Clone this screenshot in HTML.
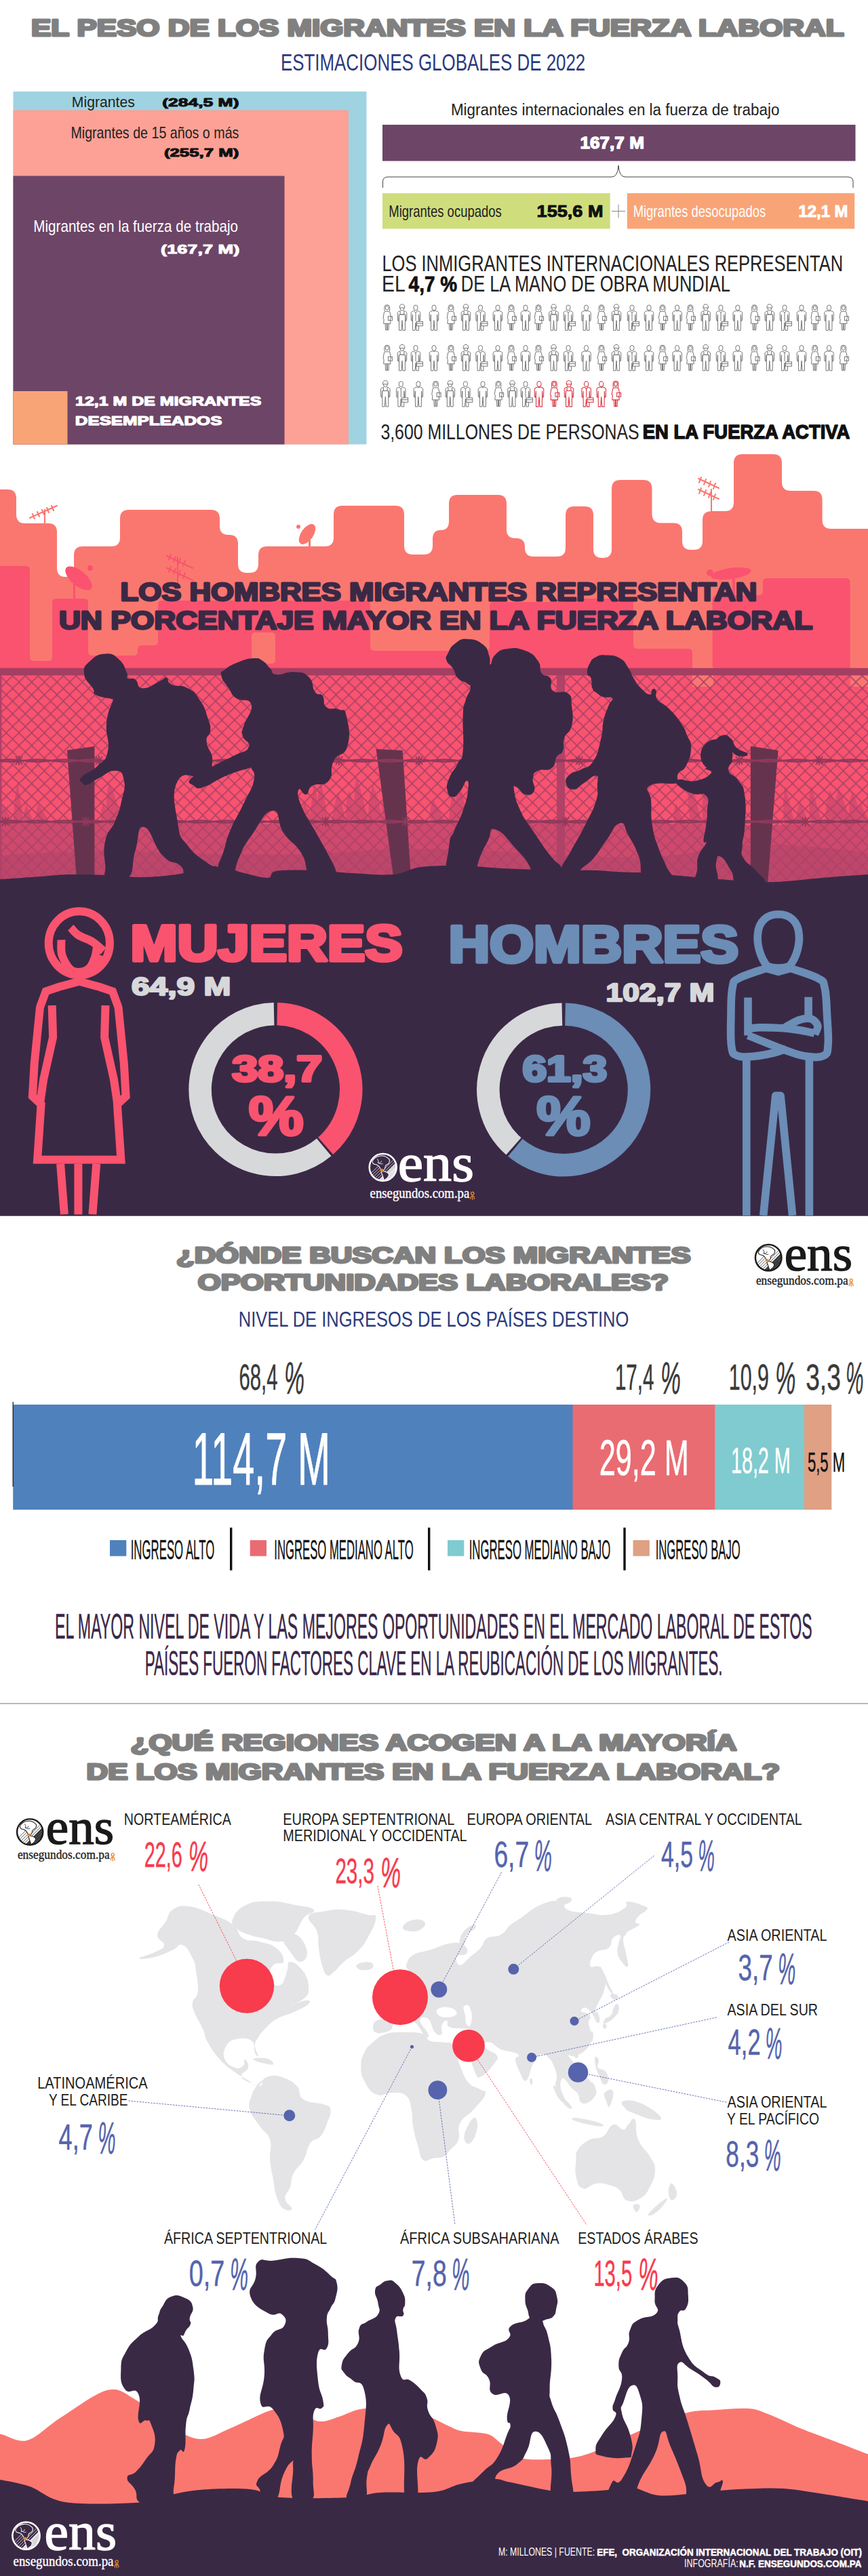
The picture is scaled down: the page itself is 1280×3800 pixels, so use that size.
<!DOCTYPE html>
<html lang="es"><head><meta charset="utf-8"><title>El peso de los migrantes en la fuerza laboral</title>
<style>html,body{margin:0;padding:0;background:#fff}svg{display:block}text{white-space:pre}</style></head>
<body><svg width="1280" height="3800" viewBox="0 0 1280 3800">
<text x="46.0" y="53.4" font-family="'Liberation Sans',sans-serif" font-size="35.94" font-weight="bold" fill="#808080" textLength="1198.6" lengthAdjust="spacingAndGlyphs" stroke="#808080" stroke-width="3.2" stroke-linejoin="round">EL PESO DE LOS MIGRANTES EN LA FUERZA LABORAL</text>
<text x="413.9" y="104.0" font-family="'Liberation Sans',sans-serif" font-size="34.78" font-weight="normal" fill="#2c3a7c" textLength="449.4" lengthAdjust="spacingAndGlyphs">ESTIMACIONES GLOBALES DE 2022</text>
<rect x="19.5" y="135" width="521" height="520.5" fill="#9fd3e1"/>
<rect x="19.5" y="162.5" width="494.5" height="493" fill="#fda196"/>
<rect x="19.5" y="259.5" width="400" height="396" fill="#6d4567"/>
<rect x="19.5" y="577" width="80" height="78.5" fill="#f9a476"/>
<text x="105.8" y="157.5" font-family="'Liberation Sans',sans-serif" font-size="22.46" font-weight="normal" fill="#222" textLength="93.0" lengthAdjust="spacingAndGlyphs">Migrantes</text>
<text x="239.2" y="157.0" font-family="'Liberation Sans',sans-serif" font-size="17.39" font-weight="bold" fill="#111" textLength="113.3" lengthAdjust="spacingAndGlyphs" stroke="#111" stroke-width="1.0" stroke-linejoin="round">(284,5 M)</text>
<text x="104.4" y="203.6" font-family="'Liberation Sans',sans-serif" font-size="23.19" font-weight="normal" fill="#222" textLength="248.0" lengthAdjust="spacingAndGlyphs">Migrantes de 15 años o más</text>
<text x="241.9" y="230.8" font-family="'Liberation Sans',sans-serif" font-size="17.39" font-weight="bold" fill="#111" textLength="110.6" lengthAdjust="spacingAndGlyphs" stroke="#111" stroke-width="1.0" stroke-linejoin="round">(255,7 M)</text>
<text x="49.3" y="341.5" font-family="'Liberation Sans',sans-serif" font-size="23.19" font-weight="normal" fill="#fff" textLength="301.7" lengthAdjust="spacingAndGlyphs">Migrantes en la fuerza de trabajo</text>
<text x="237.1" y="374.0" font-family="'Liberation Sans',sans-serif" font-size="18.12" font-weight="bold" fill="#fff" textLength="116.2" lengthAdjust="spacingAndGlyphs" stroke="#fff" stroke-width="1.0" stroke-linejoin="round">(167,7 M)</text>
<text x="111.1" y="597.9" font-family="'Liberation Sans',sans-serif" font-size="19.20" font-weight="bold" fill="#fff" textLength="274.3" lengthAdjust="spacingAndGlyphs" stroke="#fff" stroke-width="1.25" stroke-linejoin="round">12,1 M DE MIGRANTES</text>
<text x="110.8" y="626.9" font-family="'Liberation Sans',sans-serif" font-size="19.20" font-weight="bold" fill="#fff" textLength="216.6" lengthAdjust="spacingAndGlyphs" stroke="#fff" stroke-width="1.25" stroke-linejoin="round">DESEMPLEADOS</text>
<text x="664.9" y="170.0" font-family="'Liberation Sans',sans-serif" font-size="24.64" font-weight="normal" fill="#222" textLength="484.5" lengthAdjust="spacingAndGlyphs">Migrantes internacionales en la fuerza de trabajo</text>
<rect x="564" y="184" width="697.5" height="53.5" fill="#6d4567"/>
<text x="855.5" y="218.8" font-family="'Liberation Sans',sans-serif" font-size="24.06" font-weight="bold" fill="#fff" textLength="94.4" lengthAdjust="spacingAndGlyphs" stroke="#fff" stroke-width="1.4" stroke-linejoin="round">167,7 M</text>
<path d="M564.5,277 V268 Q564.5,261 572,261 H902 Q911,261 912,244 Q913,261 922,261 H1250 Q1258,261 1258,268 V277" fill="none" stroke="#444" stroke-width="1"/>
<rect x="564" y="285" width="335.7" height="52.5" fill="#d0dd7d"/>
<rect x="924.8" y="285" width="335.4" height="52.5" fill="#f9a476"/>
<text x="573.3" y="319.5" font-family="'Liberation Sans',sans-serif" font-size="23.19" font-weight="normal" fill="#222" textLength="166.5" lengthAdjust="spacingAndGlyphs">Migrantes ocupados</text>
<text x="791.6" y="320.0" font-family="'Liberation Sans',sans-serif" font-size="24.64" font-weight="bold" fill="#111" textLength="97.9" lengthAdjust="spacingAndGlyphs" stroke="#111" stroke-width="1.0" stroke-linejoin="round">155,6 M</text>
<path d="M902,311.5 H922 M912,301.5 V321.5" stroke="#888" stroke-width="1" fill="none"/>
<text x="933.7" y="319.5" font-family="'Liberation Sans',sans-serif" font-size="23.19" font-weight="normal" fill="#fff" textLength="195.4" lengthAdjust="spacingAndGlyphs">Migrantes desocupados</text>
<text x="1177.5" y="320.0" font-family="'Liberation Sans',sans-serif" font-size="24.64" font-weight="bold" fill="#fff" textLength="72.9" lengthAdjust="spacingAndGlyphs" stroke="#fff" stroke-width="1.0" stroke-linejoin="round">12,1 M</text>
<text x="563.4" y="400.3" font-family="'Liberation Sans',sans-serif" font-size="32.32" font-weight="normal" fill="#222" textLength="679.7" lengthAdjust="spacingAndGlyphs">LOS INMIGRANTES INTERNACIONALES REPRESENTAN</text>
<text x="563.1" y="430.0" font-family="'Liberation Sans',sans-serif" font-size="32.32" font-weight="normal" fill="#222" textLength="34.8" lengthAdjust="spacingAndGlyphs">EL</text>
<text x="602.6" y="429.6" font-family="'Liberation Sans',sans-serif" font-size="31.16" font-weight="bold" fill="#111" textLength="71.5" lengthAdjust="spacingAndGlyphs" stroke="#111" stroke-width="0.8" stroke-linejoin="round">4,7 %</text>
<text x="679.8" y="430.0" font-family="'Liberation Sans',sans-serif" font-size="32.32" font-weight="normal" fill="#222" textLength="397.0" lengthAdjust="spacingAndGlyphs">DE LA MANO DE OBRA MUNDIAL</text>
<text x="561.4" y="648.0" font-family="'Liberation Sans',sans-serif" font-size="30.87" font-weight="normal" fill="#222" textLength="381.2" lengthAdjust="spacingAndGlyphs">3,600 MILLONES DE PERSONAS</text>
<text x="947.8" y="647.2" font-family="'Liberation Sans',sans-serif" font-size="28.70" font-weight="bold" fill="#111" textLength="305.5" lengthAdjust="spacingAndGlyphs" stroke="#111" stroke-width="1.5" stroke-linejoin="round">EN LA FUERZA ACTIVA</text>
<defs>
<g id="pman"><ellipse cx="0" cy="4.2" rx="3.1" ry="3.9"/><path d="M-2.4,8.6 L-5.4,9.9 Q-6.8,10.5 -6.8,12 L-6.6,23 L-5.2,24 L-4.6,14.5 L-4.4,37.6 L-1,37.6 L0,23 L1,37.6 L4.4,37.6 L4.6,14.5 L5.2,24 L6.6,23 L6.8,12 Q6.8,10.5 5.4,9.9 L2.4,8.6 Q0,10 -2.4,8.6Z"/></g>
<g id="pwom"><path d="M-3.6,9.4 Q-4.2,5 -3.8,3 Q-3.4,0 0,0 Q3.4,0 3.8,3 Q4.2,5 3.6,9.4"/><ellipse cx="0" cy="4.4" rx="2.4" ry="3"/><path d="M-2,9.6 L-4.4,11 L-5.8,20 L-4.6,21 L-5.2,27.6 L5.2,27.6 L4.6,21 L5.8,20 L4.4,11 L2,9.6Z"/><path d="M-2.6,27.6 L-2.2,37.2 L-0.5,37.2 L-0.5,27.6 M0.5,27.6 L0.5,37.2 L2.2,37.2 L2.6,27.6"/><rect x="1.6" y="17" width="6" height="6"/></g>
<g id="pwrk"><path d="M-3.9,4.4 Q-3.9,-0.8 0,-0.8 Q3.9,-0.8 3.9,4.4Z"/><path d="M-2.9,4.6 Q-2.9,8.6 0,8.6 Q2.9,8.6 2.9,4.6"/><path d="M-2.4,8.8 L-5.4,10 Q-6.8,10.6 -6.8,12 L-6.6,23 L-5.2,24 L-4.6,14.5 L-4.4,37.6 L-1,37.6 L0,23 L1,37.6 L4.4,37.6 L4.6,14.5 L5.2,24 L6.6,23 L6.8,12 Q6.8,10.6 5.4,10 L2.4,8.8"/><path d="M-2.8,9.5 V14.2 H2.8 V9.5 M-4.5,14.2 H4.5"/></g>
<g id="pbiz"><ellipse cx="0" cy="4.2" rx="3.1" ry="3.9"/><path d="M-2.4,8.6 L-5.4,9.9 Q-6.8,10.5 -6.8,12 L-6.6,23 L-5.2,24 L-4.6,14.5 L-4.4,37.6 L-1,37.6 L0,26 L1,37.6 L4.4,37.6 L4.6,14.5 L5.2,24 L6.6,23 L6.8,12 Q6.8,10.5 5.4,9.9 L2.4,8.6"/><path d="M-2.2,8.8 L0,12 L2.2,8.8 M0,12 V24"/><rect x="1.4" y="24.6" width="9" height="6.4" fill="#fff"/><path d="M1.4,27.4 H10.4"/></g>
</defs>
<g fill="none" stroke="#6f6f6f" stroke-width="0.95"><use href="#pwom" x="570.8" y="449.7"/><use href="#pwrk" x="593.0" y="449.7"/><use href="#pbiz" x="613.0" y="449.7"/><use href="#pman" x="640.0" y="449.7"/><use href="#pwom" x="665.0" y="449.7"/><use href="#pwrk" x="687.0" y="449.7"/><use href="#pbiz" x="708.5" y="449.7"/><use href="#pman" x="734.0" y="449.7"/><use href="#pwom" x="754.0" y="449.7"/><use href="#pman" x="775.0" y="449.7"/><use href="#pwom" x="794.0" y="449.7"/><use href="#pwrk" x="816.5" y="449.7"/><use href="#pbiz" x="838.0" y="449.7"/><use href="#pman" x="864.5" y="449.7"/><use href="#pwom" x="887.0" y="449.7"/><use href="#pwrk" x="909.0" y="449.7"/><use href="#pbiz" x="932.0" y="449.7"/><use href="#pman" x="957.0" y="449.7"/><use href="#pwom" x="977.0" y="449.7"/><use href="#pman" x="998.6" y="449.7"/><use href="#pwom" x="1018.0" y="449.7"/><use href="#pwrk" x="1040.7" y="449.7"/><use href="#pbiz" x="1063.0" y="449.7"/><use href="#pman" x="1087.8" y="449.7"/><use href="#pwom" x="1112.5" y="449.7"/><use href="#pwrk" x="1134.8" y="449.7"/><use href="#pbiz" x="1157.0" y="449.7"/><use href="#pman" x="1182.0" y="449.7"/><use href="#pwom" x="1201.7" y="449.7"/><use href="#pman" x="1222.5" y="449.7"/><use href="#pwom" x="1243.8" y="449.7"/></g>
<g fill="none" stroke="#6f6f6f" stroke-width="0.95"><use href="#pwom" x="570.8" y="509.2"/><use href="#pwrk" x="593.0" y="509.2"/><use href="#pbiz" x="613.0" y="509.2"/><use href="#pman" x="640.0" y="509.2"/><use href="#pwom" x="665.0" y="509.2"/><use href="#pwrk" x="687.0" y="509.2"/><use href="#pbiz" x="708.5" y="509.2"/><use href="#pman" x="734.0" y="509.2"/><use href="#pwom" x="754.0" y="509.2"/><use href="#pman" x="775.0" y="509.2"/><use href="#pwom" x="794.0" y="509.2"/><use href="#pwrk" x="816.5" y="509.2"/><use href="#pbiz" x="838.0" y="509.2"/><use href="#pman" x="864.5" y="509.2"/><use href="#pwom" x="887.0" y="509.2"/><use href="#pwrk" x="909.0" y="509.2"/><use href="#pbiz" x="932.0" y="509.2"/><use href="#pman" x="957.0" y="509.2"/><use href="#pwom" x="977.0" y="509.2"/><use href="#pman" x="998.6" y="509.2"/><use href="#pwom" x="1018.0" y="509.2"/><use href="#pwrk" x="1040.7" y="509.2"/><use href="#pbiz" x="1063.0" y="509.2"/><use href="#pman" x="1087.8" y="509.2"/><use href="#pwom" x="1112.5" y="509.2"/><use href="#pwrk" x="1134.8" y="509.2"/><use href="#pbiz" x="1157.0" y="509.2"/><use href="#pman" x="1182.0" y="509.2"/><use href="#pwom" x="1201.7" y="509.2"/><use href="#pman" x="1222.5" y="509.2"/><use href="#pwom" x="1243.8" y="509.2"/></g>
<g fill="none" stroke="#6f6f6f" stroke-width="0.95"><use href="#pwrk" x="568.3" y="562.3"/><use href="#pbiz" x="591.3" y="562.3"/><use href="#pman" x="616.9" y="562.3"/><use href="#pwom" x="642.5" y="562.3"/><use href="#pwrk" x="663.8" y="562.3"/><use href="#pbiz" x="686.4" y="562.3"/><use href="#pman" x="712.0" y="562.3"/><use href="#pwom" x="735.0" y="562.3"/><use href="#pwrk" x="755.5" y="562.3"/><use href="#pbiz" x="775.0" y="562.3"/></g>
<g fill="none" stroke="#d8343f" stroke-width="1.05"><use href="#pman" x="795.0" y="562.3"/><use href="#pwom" x="817.3" y="562.3"/><use href="#pwrk" x="839.0" y="562.3"/><use href="#pbiz" x="864.6" y="562.3"/><use href="#pman" x="886.7" y="562.3"/><use href="#pwom" x="908.0" y="562.3"/></g>
<path d="M-10.0,722.0 L11.0,722.0 Q24.0,722.0 24.0,735.0 L24.0,759.0 Q24.0,772.0 37.0,772.0 L71.0,772.0 Q84.0,772.0 84.0,785.0 L84.0,838.0 Q84.0,851.0 96.5,851.0 L96.5,851.0 Q109.0,851.0 109.0,838.0 L109.0,819.0 Q109.0,806.0 122.0,806.0 L164.0,806.0 Q177.0,806.0 177.0,793.0 L177.0,765.0 Q177.0,752.0 190.0,752.0 L311.0,752.0 Q324.0,752.0 324.0,765.0 L324.0,776.0 Q324.0,789.0 337.0,789.0 L338.0,789.0 Q351.0,789.0 351.0,802.0 L351.0,832.0 Q351.0,845.0 364.0,845.0 L368.0,845.0 Q381.0,845.0 381.0,832.0 L381.0,819.0 Q381.0,806.0 394.0,806.0 L479.0,806.0 Q492.0,806.0 492.0,793.0 L492.0,759.0 Q492.0,746.0 505.0,746.0 L583.0,746.0 Q596.0,746.0 596.0,759.0 L596.0,805.0 Q596.0,818.0 609.0,818.0 L625.0,818.0 Q638.0,818.0 638.0,805.0 L638.0,795.0 Q638.0,782.0 650.0,782.0 L650.0,782.0 Q662.0,782.0 662.0,769.0 L662.0,743.0 Q662.0,730.0 675.0,730.0 L734.0,730.0 Q747.0,730.0 747.0,743.0 L747.0,781.0 Q747.0,794.0 760.0,794.0 L761.0,794.0 Q774.0,794.0 774.0,807.0 L774.0,808.0 Q774.0,821.0 787.0,821.0 L821.0,821.0 Q834.0,821.0 834.0,808.0 L834.0,760.0 Q834.0,747.0 847.0,747.0 L862.0,747.0 Q875.0,747.0 875.0,760.0 L875.0,810.0 Q875.0,823.0 888.0,823.0 L889.0,823.0 Q902.0,823.0 902.0,810.0 L902.0,721.0 Q902.0,708.0 915.0,708.0 L948.5,708.0 Q961.5,708.0 961.5,721.0 L961.5,758.5 Q961.5,771.5 974.5,771.5 L993.0,771.5 Q1006.0,771.5 1006.0,784.5 L1006.0,798.0 Q1006.0,811.0 1019.0,811.0 L1023.0,811.0 Q1036.0,811.0 1036.0,798.0 L1036.0,767.0 Q1036.0,754.0 1049.0,754.0 L1069.0,754.0 Q1082.0,754.0 1082.0,741.0 L1082.0,683.0 Q1082.0,670.0 1095.0,670.0 L1140.0,670.0 Q1153.0,670.0 1153.0,683.0 L1153.0,711.0 Q1153.0,724.0 1166.0,724.0 L1199.6,724.0 Q1212.6,724.0 1212.6,737.0 L1212.6,767.0 Q1212.6,780.0 1225.6,780.0 L1290.0,780.0 L1290,1010 L-10,1010Z" fill="#fa7770"/>
<g stroke="#fa7770" stroke-width="2" fill="none" stroke-linecap="round"><path d="M66,772 V752 M44,764 L84,746 M48,758 l3,7 M55,755 l3,7 M62,752 l3,7 M69,749 l3,7 M76,746 l3,7"/><path d="M1049,754 V722 M1030,706 L1060,720 M1030,722 L1060,736 M1034,704 l-3,8 M1041,707 l-3,8 M1048,710 l-3,8 M1055,713 l-3,8 M1034,720 l-3,8 M1041,723 l-3,8 M1048,726 l-3,8 M1055,729 l-3,8"/></g>
<g fill="#fa7770"><ellipse cx="453" cy="788" rx="17" ry="9" transform="rotate(-55 453 788)"/><rect x="455" y="790" width="3" height="17"/><circle cx="440" cy="777" r="3"/></g>
<path d="M-10.0,835.0 L38.0,835.0 Q44.0,835.0 44.0,841.0 L44.0,969.0 Q44.0,975.0 50.0,975.0 L71.0,975.0 Q77.0,975.0 77.0,969.0 L77.0,889.0 Q77.0,883.0 83.0,883.0 L124.0,883.0 Q130.0,883.0 130.0,889.0 L130.0,961.0 Q130.0,967.0 136.0,967.0 L197.0,967.0 Q203.0,967.0 203.0,961.0 L203.0,958.0 Q203.0,952.0 209.0,952.0 L227.0,952.0 Q233.0,952.0 233.0,946.0 L233.0,892.0 Q233.0,886.0 239.0,886.0 L540.0,886.0 Q546.0,886.0 546.0,892.0 L546.0,954.0 Q546.0,960.0 552.0,960.0 L716.0,960.0 Q722.0,960.0 722.0,954.0 L722.0,894.0 Q722.0,888.0 728.0,888.0 L830.0,888.0 Q836.0,888.0 836.0,885.5 L836.0,885.5 Q836.0,883.0 842.0,883.0 L928.0,883.0 Q934.0,883.0 934.0,889.0 L934.0,951.0 Q934.0,957.0 940.0,957.0 L1015.0,957.0 Q1021.0,957.0 1021.0,963.0 L1021.0,999.0 Q1021.0,1005.0 1027.0,1005.0 L1044.6,1005.0 Q1050.6,1005.0 1050.6,999.0 L1050.6,884.0 Q1050.6,878.0 1056.6,878.0 L1119.0,878.0 Q1125.0,878.0 1125.0,872.0 L1125.0,859.0 Q1125.0,853.0 1131.0,853.0 L1247.7,853.0 Q1253.7,853.0 1253.7,859.0 L1253.7,1005.0 L1253.7,1010 L-10,1010Z" fill="#f9536f"/>
<rect x="371" y="933" width="35" height="46" rx="5" fill="#fa7770"/>
<g fill="#f9536f"><ellipse cx="116" cy="853" rx="24" ry="11" transform="rotate(40 116 853)"/><rect x="108" y="860" width="3" height="25"/><circle cx="133" cy="838" r="4"/><ellipse cx="1078" cy="846" rx="30" ry="8" transform="rotate(-8 1078 846)"/><circle cx="1047" cy="845" r="5"/><rect x="1080" y="846" width="4" height="34"/></g>
<g stroke="#f9536f" stroke-width="2" fill="none" stroke-linecap="round"><path d="M262,886 V822 M246,820 L284,838 M246,838 L284,856 M252,818 l-3,8 M259,821 l-3,8 M266,824 l-3,8 M273,827 l-3,8 M252,836 l-3,8 M259,839 l-3,8 M266,842 l-3,8 M273,845 l-3,8"/></g>
<text x="177.6" y="885.8" font-family="'Liberation Sans',sans-serif" font-size="37.68" font-weight="bold" fill="#3a2945" textLength="938.7" lengthAdjust="spacingAndGlyphs" stroke="#3a2945" stroke-width="2.8" stroke-linejoin="round">LOS HOMBRES MIGRANTES REPRESENTAN</text>
<text x="86.9" y="927.5" font-family="'Liberation Sans',sans-serif" font-size="37.25" font-weight="bold" fill="#3a2945" textLength="1111.4" lengthAdjust="spacingAndGlyphs" stroke="#3a2945" stroke-width="2.8" stroke-linejoin="round">UN PORCENTAJE MAYOR EN LA FUERZA LABORAL</text>
<defs><pattern id="mesh" width="18.7" height="18.7" patternUnits="userSpaceOnUse" x="4.6" y="987.5"><path d="M14.5,-9.3 L6.5,-2.1 Q4.2,0.0 6.5,2.1 L12.2,7.2 Q14.5,9.3 12.2,11.5 L6.5,16.6 Q4.2,18.7 6.5,20.8 L14.5,28.0 M13.5,-9.3 L21.5,-2.1 Q23.9,0.0 21.5,2.1 L15.9,7.2 Q13.5,9.3 15.9,11.5 L21.5,16.6 Q23.9,18.7 21.5,20.8 L13.5,28.0 M-5.2,-9.3 L2.8,-2.1 Q5.2,0.0 2.8,2.1 L-2.8,7.2 Q-5.2,9.3 -2.8,11.5 L2.8,16.6 Q5.2,18.7 2.8,20.8 L-5.2,28.0 M33.2,-9.3 L25.2,-2.1 Q22.9,0.0 25.2,2.1 L30.9,7.2 Q33.2,9.3 30.9,11.5 L25.2,16.6 Q22.9,18.7 25.2,20.8 L33.2,28.0" stroke="#ad4268" stroke-width="1.8" fill="none"/></pattern>
<linearGradient id="fg" x1="0" y1="0" x2="0" y2="1"><stop offset="0" stop-color="#f9536f"/><stop offset="1" stop-color="#f9536f"/></linearGradient></defs>
<rect x="0" y="984" width="1280" height="320" fill="url(#fg)"/>
<rect x="1021" y="984" width="31" height="29" fill="#fa7770"/><rect x="1254" y="984" width="26" height="29" fill="#fa7770"/>
<g fill="#d84a6c"><path d="M-10,1218 Q-12,1192 -5,1170 Q2,1196 8,1218Z"/><path d="M0,1218 Q-7,1200 2,1186 Q16,1204 24,1218Z"/><path d="M20,1218 Q20,1182 26,1153 Q31,1189 36,1218Z"/><path d="M35,1218 Q33,1202 39,1188 Q46,1204 52,1218Z"/><path d="M57,1218 Q50,1200 57,1186 Q68,1204 76,1218Z"/><path d="M151,1218 Q146,1201 152,1187 Q161,1204 168,1218Z"/><path d="M161,1218 Q153,1183 161,1154 Q175,1189 183,1218Z"/><path d="M177,1218 Q171,1202 180,1188 Q194,1204 201,1218Z"/><path d="M195,1218 Q195,1188 202,1164 Q208,1194 213,1218Z"/><path d="M207,1218 Q207,1183 215,1154 Q222,1189 227,1218Z"/><path d="M445,1218 Q442,1199 449,1184 Q458,1203 464,1218Z"/><path d="M457,1218 Q458,1183 464,1155 Q469,1190 474,1218Z"/><path d="M467,1218 Q466,1181 473,1151 Q480,1188 486,1218Z"/><path d="M489,1218 Q490,1192 499,1170 Q507,1196 512,1218Z"/><path d="M512,1218 Q507,1190 515,1167 Q525,1195 532,1218Z"/><path d="M526,1218 Q519,1178 526,1146 Q538,1186 545,1218Z"/><path d="M544,1218 Q541,1184 550,1157 Q561,1191 567,1218Z"/><path d="M567,1218 Q560,1193 566,1172 Q576,1197 584,1218Z"/><path d="M637,1218 Q631,1197 639,1180 Q651,1201 658,1218Z"/><path d="M661,1218 Q663,1188 669,1164 Q672,1194 677,1218Z"/><path d="M672,1218 Q669,1183 677,1155 Q687,1190 693,1218Z"/><path d="M692,1218 Q693,1182 702,1152 Q710,1188 715,1218Z"/><path d="M995,1218 Q991,1200 997,1186 Q1005,1204 1012,1218Z"/><path d="M1019,1218 Q1011,1178 1017,1146 Q1028,1186 1036,1218Z"/><path d="M1037,1218 Q1033,1180 1042,1149 Q1053,1187 1060,1218Z"/><path d="M1058,1218 Q1050,1180 1058,1148 Q1071,1186 1079,1218Z"/><path d="M1081,1218 Q1082,1190 1089,1168 Q1094,1196 1099,1218Z"/><path d="M1157,1218 Q1152,1186 1158,1159 Q1166,1191 1173,1218Z"/><path d="M1175,1218 Q1173,1198 1180,1182 Q1188,1202 1194,1218Z"/><path d="M1196,1218 Q1190,1186 1196,1159 Q1206,1191 1213,1218Z"/><path d="M1219,1218 Q1215,1189 1224,1165 Q1236,1194 1243,1218Z"/><path d="M1232,1218 Q1228,1188 1237,1163 Q1249,1193 1256,1218Z"/><path d="M1254,1218 Q1249,1190 1257,1168 Q1269,1196 1276,1218Z"/><path d="M1267,1218 Q1261,1200 1268,1185 Q1278,1203 1285,1218Z"/><path d="M1283,1218 Q1275,1180 1282,1148 Q1294,1186 1302,1218Z"/></g>
<path d="M0,1214 Q160,1210 320,1214 T640,1212 T960,1214 T1280,1212 V1310 H0Z" fill="#cf496c"/>
<path d="M0,1262 Q120,1252 260,1258 T520,1256 T800,1260 T1040,1254 T1280,1258 V1310 H0Z" fill="#bd466a"/>
<rect x="0" y="996" width="1280" height="306" fill="url(#mesh)"/>
<rect x="0" y="985.5" width="1280" height="10.8" fill="#a33f63"/>
<rect x="0" y="996" width="2.5" height="300" fill="#b04268"/><rect x="821" y="996" width="12" height="300" fill="#b04268"/>
<path d="M98.9,1106.7 L139.4,1101 L139.4,1296 L112.8,1296Z" fill="#66334f"/>
<path d="M554.6,1105 L593.7,1107 L606,1296 L580.4,1296Z" fill="#66334f"/>
<path d="M1106.9,1100.7 L1147.5,1107 L1132,1304 L1106.9,1304Z" fill="#66334f"/>
<path d="M-5,1122 q20,3 40,0 q20,-3 40,0 q20,3 40,0 q20,-3 40,0 q20,3 40,0 q20,-3 40,0 q20,3 40,0 q20,-3 40,0 q20,3 40,0 q20,-3 40,0 q20,3 40,0 q20,-3 40,0 q20,3 40,0 q20,-3 40,0 q20,3 40,0 q20,-3 40,0 q20,3 40,0 q20,-3 40,0 q20,3 40,0 q20,-3 40,0 q20,3 40,0 q20,-3 40,0 q20,3 40,0 q20,-3 40,0 q20,3 40,0 q20,-3 40,0 q20,3 40,0 q20,-3 40,0 q20,3 40,0 q20,-3 40,0 q20,3 40,0 q20,-3 40,0 q20,3 40,0 M-5,1122 q20,-3 40,0 q20,3 40,0 q20,-3 40,0 q20,3 40,0 q20,-3 40,0 q20,3 40,0 q20,-3 40,0 q20,3 40,0 q20,-3 40,0 q20,3 40,0 q20,-3 40,0 q20,3 40,0 q20,-3 40,0 q20,3 40,0 q20,-3 40,0 q20,3 40,0 q20,-3 40,0 q20,3 40,0 q20,-3 40,0 q20,3 40,0 q20,-3 40,0 q20,3 40,0 q20,-3 40,0 q20,3 40,0 q20,-3 40,0 q20,3 40,0 q20,-3 40,0 q20,3 40,0 q20,-3 40,0 q20,3 40,0 q20,-3 40,0 q20,3 40,0 q20,-3 40,0" fill="none" stroke="#8f395b" stroke-width="2.3"/><path d="M23,1116 l10,12 M33,1116 l-10,12 M28,1115 v14 M141,1116 l10,12 M151,1116 l-10,12 M146,1115 v14 M259,1116 l10,12 M269,1116 l-10,12 M264,1115 v14 M377,1116 l10,12 M387,1116 l-10,12 M382,1115 v14 M495,1116 l10,12 M505,1116 l-10,12 M500,1115 v14 M613,1116 l10,12 M623,1116 l-10,12 M618,1115 v14 M731,1116 l10,12 M741,1116 l-10,12 M736,1115 v14 M849,1116 l10,12 M859,1116 l-10,12 M854,1115 v14 M967,1116 l10,12 M977,1116 l-10,12 M972,1115 v14 M1085,1116 l10,12 M1095,1116 l-10,12 M1090,1115 v14 M1203,1116 l10,12 M1213,1116 l-10,12 M1208,1115 v14 " stroke="#8f395b" stroke-width="1.8" fill="none"/>
<path d="M-5,1212 q20,3 40,0 q20,-3 40,0 q20,3 40,0 q20,-3 40,0 q20,3 40,0 q20,-3 40,0 q20,3 40,0 q20,-3 40,0 q20,3 40,0 q20,-3 40,0 q20,3 40,0 q20,-3 40,0 q20,3 40,0 q20,-3 40,0 q20,3 40,0 q20,-3 40,0 q20,3 40,0 q20,-3 40,0 q20,3 40,0 q20,-3 40,0 q20,3 40,0 q20,-3 40,0 q20,3 40,0 q20,-3 40,0 q20,3 40,0 q20,-3 40,0 q20,3 40,0 q20,-3 40,0 q20,3 40,0 q20,-3 40,0 q20,3 40,0 q20,-3 40,0 q20,3 40,0 M-5,1212 q20,-3 40,0 q20,3 40,0 q20,-3 40,0 q20,3 40,0 q20,-3 40,0 q20,3 40,0 q20,-3 40,0 q20,3 40,0 q20,-3 40,0 q20,3 40,0 q20,-3 40,0 q20,3 40,0 q20,-3 40,0 q20,3 40,0 q20,-3 40,0 q20,3 40,0 q20,-3 40,0 q20,3 40,0 q20,-3 40,0 q20,3 40,0 q20,-3 40,0 q20,3 40,0 q20,-3 40,0 q20,3 40,0 q20,-3 40,0 q20,3 40,0 q20,-3 40,0 q20,3 40,0 q20,-3 40,0 q20,3 40,0 q20,-3 40,0 q20,3 40,0 q20,-3 40,0" fill="none" stroke="#8f395b" stroke-width="2.3"/><path d="M3,1206 l10,12 M13,1206 l-10,12 M8,1205 v14 M121,1206 l10,12 M131,1206 l-10,12 M126,1205 v14 M239,1206 l10,12 M249,1206 l-10,12 M244,1205 v14 M357,1206 l10,12 M367,1206 l-10,12 M362,1205 v14 M475,1206 l10,12 M485,1206 l-10,12 M480,1205 v14 M593,1206 l10,12 M603,1206 l-10,12 M598,1205 v14 M711,1206 l10,12 M721,1206 l-10,12 M716,1205 v14 M829,1206 l10,12 M839,1206 l-10,12 M834,1205 v14 M947,1206 l10,12 M957,1206 l-10,12 M952,1205 v14 M1065,1206 l10,12 M1075,1206 l-10,12 M1070,1205 v14 M1183,1206 l10,12 M1193,1206 l-10,12 M1188,1205 v14 " stroke="#8f395b" stroke-width="1.8" fill="none"/>
<path d="M-20.0,1297.0 C-16.7,1297.0 -13.3,1297.7 0.0,1297.0 C13.3,1296.3 43.3,1294.2 60.0,1293.0 C76.7,1291.8 83.3,1290.3 100.0,1290.0 C116.7,1289.7 141.7,1290.3 160.0,1291.0 C178.3,1291.7 193.3,1294.2 210.0,1294.0 C226.7,1293.8 241.5,1292.5 260.0,1290.0 C278.5,1287.5 304.3,1279.3 321.0,1279.0 C337.7,1278.7 347.7,1285.3 360.0,1288.0 C372.3,1290.7 387.2,1295.5 395.0,1295.0 C402.8,1294.5 396.2,1286.8 407.0,1285.0 C417.8,1283.2 441.5,1283.5 460.0,1284.0 C478.5,1284.5 498.0,1287.0 518.0,1288.0 C538.0,1289.0 563.0,1291.5 580.0,1290.0 C597.0,1288.5 603.3,1281.2 620.0,1279.0 C636.7,1276.8 659.8,1276.7 680.0,1277.0 C700.2,1277.3 721.0,1280.0 741.0,1281.0 C761.0,1282.0 777.2,1282.5 800.0,1283.0 C822.8,1283.5 860.0,1283.5 878.0,1284.0 C896.0,1284.5 894.3,1285.3 908.0,1286.0 C921.7,1286.7 944.0,1287.0 960.0,1288.0 C976.0,1289.0 987.3,1290.5 1004.0,1292.0 C1020.7,1293.5 1039.7,1295.5 1060.0,1297.0 C1080.3,1298.5 1109.3,1300.5 1126.0,1301.0 C1142.7,1301.5 1145.7,1301.0 1160.0,1300.0 C1174.3,1299.0 1192.0,1296.7 1212.0,1295.0 C1232.0,1293.3 1265.3,1290.8 1280.0,1290.0 C1294.7,1289.2 1296.7,1290.0 1300.0,1290.0 L1300,1793.7 L-20,1793.7Z" fill="#3a2945"/>
<path d="M155.3,964.4 C166.6,963.9 167.2,965.7 175.6,972.9 C183.9,980.1 183.2,984.0 186.6,991.3 C190.1,998.7 185.0,997.6 188.5,1000.6 C191.9,1003.5 193.6,998.5 199.5,1002.4 C205.4,1006.3 200.8,1014.8 210.6,1015.3 C220.4,1015.8 227.1,1008.4 236.4,1004.2 C245.7,1000.1 241.2,998.3 245.6,999.8 C250.0,1001.3 244.6,1005.6 253.0,1009.8 C261.4,1013.9 265.7,1008.9 277.0,1015.3 C288.3,1021.7 287.5,1021.9 295.4,1033.7 C303.3,1045.5 302.5,1047.7 306.5,1059.5 C310.4,1071.3 310.6,1068.6 310.1,1078.0 C309.6,1087.3 303.8,1082.8 304.6,1094.6 C305.4,1106.4 314.1,1108.9 313.1,1122.2 C312.1,1135.5 314.5,1136.5 300.9,1144.3 C287.4,1152.2 272.5,1133.0 262.2,1151.7 C251.9,1170.4 258.3,1188.8 262.2,1214.4 C266.1,1239.9 265.2,1231.8 277.0,1247.6 C288.8,1263.3 294.7,1264.5 306.5,1273.4 C318.2,1282.2 317.3,1273.9 321.2,1280.7 C325.1,1287.6 332.5,1294.7 321.2,1299.2 C309.9,1303.6 293.5,1303.2 278.8,1297.3 C264.1,1291.4 276.2,1286.4 265.9,1277.1 C255.6,1267.7 254.3,1277.5 240.1,1262.3 C225.8,1247.1 223.3,1221.9 212.4,1219.9 C201.6,1217.9 205.9,1234.8 199.5,1254.9 C193.1,1275.1 199.3,1285.2 188.5,1295.5 C177.7,1305.8 167.8,1298.6 159.0,1293.6 C150.1,1288.7 156.3,1291.3 155.3,1277.1 C154.3,1262.8 151.4,1257.9 155.3,1240.2 C159.2,1222.5 163.7,1226.4 170.0,1210.7 C176.4,1195.0 175.8,1196.9 179.3,1181.2 C182.7,1165.5 185.4,1163.5 182.9,1151.7 C180.5,1139.9 180.4,1137.7 170.0,1137.0 C159.7,1136.2 155.1,1143.3 144.2,1148.8 C133.4,1154.2 135.6,1155.7 129.5,1157.2 C123.4,1158.8 123.8,1157.6 121.4,1154.7 C118.9,1151.7 114.2,1152.9 120.3,1146.2 C126.4,1139.5 133.9,1139.9 144.2,1129.6 C154.6,1119.3 155.5,1124.2 159.0,1107.5 C162.4,1090.8 155.2,1086.6 157.1,1066.9 C159.1,1047.3 163.4,1043.1 166.4,1033.7 C169.3,1024.4 174.6,1034.1 168.2,1031.9 C161.8,1029.7 150.8,1030.0 142.4,1025.6 C134.0,1021.2 141.8,1023.8 136.9,1015.3 C132.0,1006.8 124.9,1004.7 124.0,993.9 C123.0,983.1 124.8,982.6 133.2,974.7 C141.5,966.9 144.0,964.9 155.3,964.4Z" fill="#3a2945"/>
<path d="M374.3,971.1 C383.6,970.6 380.8,970.8 387.2,974.7 C393.6,978.7 392.8,980.4 398.2,985.8 C403.7,991.2 398.1,993.5 407.5,995.0 C416.8,996.5 420.5,990.4 433.3,991.3 C446.1,992.3 447.0,990.8 455.4,998.7 C463.7,1006.6 459.2,1013.5 464.6,1020.8 C470.0,1028.2 471.2,1020.5 475.7,1026.4 C480.1,1032.3 474.8,1037.5 481.2,1042.9 C487.6,1048.4 491.8,1043.2 499.6,1046.6 C507.5,1050.1 507.3,1041.6 510.7,1055.9 C514.1,1070.1 517.5,1082.4 512.5,1100.1 C507.6,1117.8 499.6,1108.4 492.3,1122.2 C484.9,1136.0 493.2,1141.9 484.9,1151.7 C476.5,1161.5 469.8,1153.7 460.9,1159.1 C452.1,1164.5 457.1,1170.5 451.7,1172.0 C446.3,1173.5 442.6,1160.2 440.6,1164.6 C438.7,1169.0 437.5,1171.4 444.3,1188.6 C451.2,1205.8 455.6,1209.5 466.5,1229.1 C477.3,1248.8 477.0,1247.1 484.9,1262.3 C492.7,1277.5 493.0,1276.4 495.9,1286.3 C498.9,1296.1 505.3,1296.2 495.9,1299.2 C486.6,1302.1 474.7,1308.1 460.9,1297.3 C447.2,1286.5 455.6,1276.8 444.3,1258.6 C433.0,1240.4 429.8,1245.8 418.5,1229.1 C407.2,1212.4 414.7,1195.0 401.9,1195.9 C389.2,1196.9 383.9,1214.1 370.6,1232.8 C357.3,1251.5 360.0,1248.8 352.2,1266.0 C344.3,1283.2 349.5,1289.0 341.1,1297.3 C332.7,1305.7 326.2,1301.8 320.8,1297.3 C315.4,1292.9 318.4,1292.0 320.8,1280.7 C323.3,1269.4 325.1,1269.7 330.0,1254.9 C335.0,1240.2 331.4,1244.1 339.3,1225.4 C347.1,1206.8 350.2,1204.5 359.5,1184.9 C368.9,1165.2 371.3,1165.5 374.3,1151.7 C377.2,1137.9 372.6,1138.2 370.6,1133.3 C368.6,1128.4 376.7,1130.3 366.9,1133.3 C357.1,1136.2 351.4,1137.0 333.7,1144.3 C316.0,1151.7 313.3,1157.0 300.6,1160.9 C287.8,1164.9 290.7,1162.5 285.8,1159.1 C280.9,1155.6 274.3,1155.9 282.1,1148.0 C290.0,1140.2 298.6,1138.4 315.3,1129.6 C332.0,1120.7 331.0,1122.2 344.8,1114.8 C358.6,1107.5 363.5,1109.8 366.9,1101.9 C370.4,1094.1 359.7,1093.7 357.7,1085.3 C355.7,1077.0 356.1,1082.9 359.5,1070.6 C363.0,1058.3 373.5,1050.1 370.6,1039.3 C367.6,1028.4 357.3,1036.4 348.5,1030.0 C339.6,1023.7 343.3,1024.1 337.4,1015.3 C331.5,1006.5 327.8,1004.2 326.4,996.9 C324.9,989.5 325.0,993.1 331.9,987.6 C338.8,982.2 340.9,981.0 352.2,976.6 C363.5,972.2 364.9,971.6 374.3,971.1Z" fill="#3a2945"/>
<path d="M690.0,942.7 C700.9,943.2 703.8,944.2 712.2,950.8 C720.5,957.4 718.4,959.5 721.4,967.4 C724.3,975.2 720.8,980.8 723.2,980.3 C725.7,979.8 723.7,971.7 730.6,965.5 C737.5,959.3 737.2,958.5 749.0,957.1 C760.8,955.6 763.0,955.3 774.8,960.0 C786.6,964.7 786.9,965.9 793.3,974.7 C799.7,983.6 793.9,986.3 798.8,993.2 C803.7,1000.1 807.3,993.7 811.7,1000.6 C816.1,1007.4 808.5,1013.1 815.4,1019.0 C822.3,1024.9 830.1,1016.8 837.5,1022.7 C844.9,1028.6 841.6,1028.3 843.0,1041.1 C844.5,1053.9 846.0,1057.8 843.0,1070.6 C840.1,1083.4 835.4,1079.2 832.0,1089.0 C828.5,1098.9 833.1,1100.1 830.1,1107.5 C827.2,1114.8 825.3,1109.8 820.9,1116.7 C816.5,1123.6 820.9,1127.9 813.5,1133.3 C806.2,1138.7 800.6,1133.0 793.3,1137.0 C785.9,1140.9 787.4,1140.2 785.9,1148.0 C784.4,1155.9 790.7,1160.1 787.7,1166.5 C784.8,1172.8 781.7,1173.5 774.8,1172.0 C768.0,1170.5 766.4,1162.4 761.9,1160.9 C757.5,1159.4 756.8,1157.1 758.2,1166.5 C759.7,1175.8 760.1,1180.2 767.5,1195.9 C774.8,1211.7 774.1,1207.7 785.9,1225.4 C797.7,1243.1 800.4,1247.6 811.7,1262.3 C823.0,1277.1 823.9,1270.9 828.3,1280.7 C832.7,1290.6 840.6,1294.3 828.3,1299.2 C816.0,1304.1 794.5,1304.1 782.2,1299.2 C769.9,1294.3 788.1,1293.5 782.2,1280.7 C776.3,1268.0 773.9,1266.5 760.1,1251.2 C746.3,1236.0 741.4,1226.5 730.6,1223.6 C719.8,1220.6 726.4,1226.9 719.5,1240.2 C712.7,1253.5 709.7,1257.6 704.8,1273.4 C699.9,1289.1 712.4,1292.3 701.1,1299.2 C689.8,1306.1 672.7,1312.9 662.4,1299.2 C652.1,1285.4 660.4,1267.2 662.4,1247.6 C664.4,1227.9 664.4,1239.2 669.8,1225.4 C675.2,1211.7 677.3,1211.7 682.7,1195.9 C688.1,1180.2 688.6,1178.2 690.0,1166.5 C691.5,1154.7 691.2,1151.7 688.2,1151.7 C685.3,1151.7 684.4,1160.1 679.0,1166.5 C673.6,1172.8 673.0,1175.7 667.9,1175.7 C662.8,1175.7 661.3,1173.8 659.8,1166.5 C658.3,1159.1 658.3,1158.8 662.4,1148.0 C666.5,1137.2 669.9,1136.7 675.3,1125.9 C680.7,1115.1 680.7,1126.1 682.7,1107.5 C684.6,1088.8 681.7,1075.5 682.7,1055.9 C683.7,1036.2 683.4,1044.5 686.4,1033.7 C689.3,1022.9 693.2,1022.2 693.7,1015.3 C694.2,1008.4 693.1,1011.9 688.2,1007.9 C683.3,1004.0 680.7,1006.5 675.3,1000.6 C669.9,994.7 672.4,992.7 667.9,985.8 C663.5,978.9 660.7,980.6 658.7,974.7 C656.7,968.8 657.1,970.6 660.6,963.7 C664.0,956.8 663.7,954.5 671.6,948.9 C679.5,943.3 679.2,942.2 690.0,942.7Z" fill="#3a2945"/>
<path d="M893.7,966.6 C903.1,967.1 905.2,965.9 914.0,971.1 C922.9,976.2 921.5,977.9 926.9,985.8 C932.3,993.7 929.4,992.7 934.3,1000.6 C939.2,1008.4 939.0,1008.9 945.3,1015.3 C951.7,1021.7 953.8,1024.0 958.2,1024.5 C962.7,1025.0 959.5,1018.6 961.9,1017.1 C964.4,1015.7 965.5,1015.1 967.5,1019.0 C969.4,1022.9 964.4,1025.0 969.3,1031.9 C974.2,1038.8 976.6,1035.5 985.9,1044.8 C995.2,1054.1 997.0,1056.1 1004.3,1066.9 C1011.7,1077.7 1009.6,1075.5 1013.5,1085.3 C1017.5,1095.2 1019.6,1092.0 1019.1,1103.8 C1018.6,1115.6 1016.6,1119.8 1011.7,1129.6 C1006.8,1139.4 1004.1,1135.2 1000.6,1140.6 C997.2,1146.1 999.8,1145.9 998.8,1149.9 C997.8,1153.8 1007.8,1152.9 997.0,1155.4 C986.1,1157.8 968.1,1152.2 958.2,1159.1 C948.4,1166.0 959.1,1165.5 960.1,1181.2 C961.1,1196.9 959.0,1199.4 961.9,1218.1 C964.9,1236.7 965.7,1235.5 971.2,1251.2 C976.6,1267.0 977.3,1264.3 982.2,1277.1 C987.1,1289.8 997.5,1293.3 989.6,1299.2 C981.7,1305.1 965.5,1309.0 952.7,1299.2 C939.9,1289.3 948.5,1280.0 941.7,1262.3 C934.8,1244.6 934.3,1245.6 926.9,1232.8 C919.5,1220.0 922.9,1212.4 914.0,1214.4 C905.2,1216.3 904.1,1226.4 893.7,1240.2 C883.4,1253.9 885.6,1254.2 875.3,1266.0 C865.0,1277.8 861.9,1275.6 855.0,1284.4 C848.1,1293.3 857.8,1295.2 849.5,1299.2 C841.1,1303.1 829.6,1304.1 823.7,1299.2 C817.8,1294.3 822.5,1292.5 827.4,1280.7 C832.3,1268.9 832.3,1272.6 842.1,1254.9 C852.0,1237.2 854.4,1234.0 864.2,1214.4 C874.1,1194.7 874.6,1195.9 879.0,1181.2 C883.4,1166.5 880.8,1168.9 880.8,1159.1 C880.8,1149.2 884.4,1145.3 879.0,1144.3 C873.6,1143.3 869.4,1150.0 860.6,1155.4 C851.7,1160.8 852.7,1164.6 845.8,1164.6 C838.9,1164.6 836.2,1161.3 834.7,1155.4 C833.3,1149.5 834.4,1147.9 840.3,1142.5 C846.2,1137.1 847.5,1140.5 856.9,1135.1 C866.2,1129.7 867.4,1134.5 875.3,1122.2 C883.2,1109.9 882.4,1104.8 886.4,1089.0 C890.3,1073.3 887.1,1076.0 890.0,1063.2 C893.0,1050.4 894.0,1050.0 897.4,1041.1 C900.9,1032.3 904.9,1033.5 902.9,1030.0 C901.0,1026.6 895.9,1030.2 890.0,1028.2 C884.1,1026.2 885.3,1026.1 880.8,1022.7 C876.4,1019.2 875.9,1021.2 873.5,1015.3 C871.0,1009.4 873.6,1006.5 871.6,1000.6 C869.6,994.7 866.6,999.1 866.1,993.2 C865.6,987.3 866.3,984.8 869.8,978.4 C873.2,972.0 872.6,972.4 879.0,969.2 C885.4,966.1 884.4,966.1 893.7,966.6Z" fill="#3a2945"/>
<path d="M1063.3,1133.3 C1073.6,1130.3 1077.0,1121.2 1079.9,1122.2 C1082.9,1123.2 1071.9,1129.1 1074.4,1137.0 C1076.8,1144.8 1082.7,1141.9 1089.1,1151.7 C1095.5,1161.5 1095.9,1156.1 1098.3,1173.8 C1100.8,1191.5 1099.3,1198.4 1098.3,1218.1 C1097.4,1237.7 1095.1,1234.8 1094.7,1247.6 C1094.2,1260.3 1091.1,1256.2 1096.5,1266.0 C1101.9,1275.8 1107.1,1274.6 1114.9,1284.4 C1122.8,1294.3 1132.9,1297.9 1126.0,1302.9 C1119.1,1307.8 1101.9,1307.8 1089.1,1302.9 C1076.3,1297.9 1084.9,1294.7 1078.1,1284.4 C1071.2,1274.1 1069.2,1267.1 1063.3,1264.1 C1057.4,1261.2 1057.9,1263.0 1055.9,1273.4 C1054.0,1283.7 1063.3,1295.0 1055.9,1302.9 C1048.6,1310.7 1035.7,1308.8 1028.3,1302.9 C1020.9,1297.0 1027.8,1291.6 1028.3,1280.7 C1028.8,1269.9 1026.7,1272.1 1030.1,1262.3 C1033.6,1252.5 1039.2,1249.8 1041.2,1243.9 C1043.2,1238.0 1037.5,1247.1 1037.5,1240.2 C1037.5,1233.3 1039.7,1229.9 1041.2,1218.1 C1042.7,1206.3 1043.0,1207.7 1043.0,1195.9 C1043.0,1184.1 1047.6,1180.7 1041.2,1173.8 C1034.8,1166.9 1030.9,1175.1 1019.1,1170.1 C1007.3,1165.2 1001.9,1160.8 997.0,1155.4 C992.0,1150.0 992.8,1150.8 1000.6,1149.9 C1008.5,1148.9 1013.7,1154.2 1026.5,1151.7 C1039.2,1149.2 1044.6,1145.6 1048.6,1140.6 C1052.5,1135.7 1037.3,1135.2 1041.2,1133.3 C1045.1,1131.3 1053.0,1136.2 1063.3,1133.3Z" fill="#3a2945"/>
<circle cx="1056.7" cy="1114.1" r="23.6" fill="#3a2945"/>
<path d="M1055.9,1093.5 C1055.6,1090.1 1060.4,1085.6 1066.3,1084.6 C1072.2,1083.6 1072.8,1084.9 1078.1,1089.8 C1083.4,1094.7 1079.7,1097.1 1086.2,1103.0 C1092.7,1108.9 1100.8,1108.5 1102.4,1111.9 C1104.0,1115.2 1097.8,1116.0 1092.1,1115.6 C1086.4,1115.2 1085.7,1114.1 1081.0,1110.4 C1076.3,1106.8 1077.9,1105.5 1074.4,1101.9 C1070.8,1098.4 1072.7,1099.4 1067.7,1097.1 C1062.8,1094.9 1056.3,1096.8 1055.9,1093.5Z" fill="#3a2945"/>
<text x="192.6" y="1417.0" font-family="'Liberation Sans',sans-serif" font-size="74.64" font-weight="bold" fill="#f9536f" textLength="401.1" lengthAdjust="spacingAndGlyphs" stroke="#f9536f" stroke-width="5.5" stroke-linejoin="round">MUJERES</text>
<text x="194.0" y="1468.1" font-family="'Liberation Sans',sans-serif" font-size="37.10" font-weight="bold" fill="#d7d8da" textLength="146.3" lengthAdjust="spacingAndGlyphs" stroke="#d7d8da" stroke-width="2.4" stroke-linejoin="round">64,9 M</text>
<text x="661.7" y="1419.0" font-family="'Liberation Sans',sans-serif" font-size="75.36" font-weight="bold" fill="#6b8db6" textLength="427.4" lengthAdjust="spacingAndGlyphs" stroke="#6b8db6" stroke-width="5.5" stroke-linejoin="round">HOMBRES</text>
<text x="893.5" y="1476.5" font-family="'Liberation Sans',sans-serif" font-size="37.10" font-weight="bold" fill="#d7d8da" textLength="160.0" lengthAdjust="spacingAndGlyphs" stroke="#d7d8da" stroke-width="2.4" stroke-linejoin="round">102,7 M</text>
<ellipse cx="116.8" cy="1391.3" rx="45.1" ry="47.0" fill="none" stroke="#f9536f" stroke-width="12" stroke-linejoin="miter" stroke-miterlimit="6"/>
<path d="M90.5,1386.4 C90.6,1390.0 89.3,1401.3 91.3,1408.5 C93.4,1415.6 98.7,1425.0 102.9,1429.2 C107.2,1433.4 111.9,1434.1 116.8,1433.9 C121.6,1433.7 128.1,1431.6 132.0,1427.8 C135.9,1424.0 138.4,1416.5 140.3,1411.2 C142.1,1405.9 142.6,1398.6 143.0,1396.0" fill="none" stroke="#f9536f" stroke-width="12" stroke-linejoin="miter" stroke-miterlimit="6"/>
<path d="M104.3,1368.4 C106.2,1370.2 110.1,1376.0 115.4,1379.4 C120.7,1382.9 129.9,1385.2 136.1,1389.1 C142.3,1393.0 149.9,1400.6 152.7,1402.9" fill="none" stroke="#f9536f" stroke-width="12" stroke-linejoin="miter" stroke-miterlimit="6"/>
<path d="M150.5,1409.9 L141.6,1429.2" fill="none" stroke="#f9536f" stroke-width="12" stroke-linejoin="miter" stroke-miterlimit="6"/>
<path d="M116.8,1447.7 L86.4,1456.0 L67.6,1462.4 L59.0,1485.9 L50.7,1568.8 L47.9,1617.2 L60.6,1629.1 L55.1,1710.7 L178.4,1710.7 L172.9,1629.1 L185.6,1617.2 L182.8,1568.8 L174.5,1485.9 L166.0,1462.4 L147.2,1456.0Z" fill="none" stroke="#f9536f" stroke-width="12" stroke-linejoin="miter" stroke-miterlimit="6"/>
<path d="M76.7,1483.1 L78.1,1530.1 L64.2,1592.3 L58.7,1629.6" fill="none" stroke="#f9536f" stroke-width="12" stroke-linejoin="miter" stroke-miterlimit="6"/>
<path d="M155.5,1483.1 L154.1,1530.1 L167.9,1592.3 L173.4,1629.6" fill="none" stroke="#f9536f" stroke-width="12" stroke-linejoin="miter" stroke-miterlimit="6"/>
<path d="M89.1,1716.7 L94.9,1791.4 M115.4,1716.7 L115.4,1791.4 M142.2,1716.7 L136.4,1791.4" fill="none" stroke="#f9536f" stroke-width="12" stroke-linejoin="miter" stroke-miterlimit="6"/>
<path d="M1131.2,1425.1 C1120.2,1411.2 1116.0,1391.9 1117.4,1378.1 C1118.8,1358.7 1131.2,1348.8 1147.8,1348.8 C1164.4,1348.8 1176.9,1358.7 1178.2,1378.1 C1179.6,1391.9 1175.5,1411.2 1164.4,1425.1 Q1147.8,1431.1 1131.2,1425.1Z" fill="none" stroke="#6b8db6" stroke-width="11.6" stroke-linejoin="round" stroke-linecap="butt"/>
<path d="M1129.9,1428.4 C1121.8,1431.3 1099.7,1437.3 1089.8,1443.0 C1079.8,1448.7 1082.5,1445.5 1080.1,1456.9 C1077.7,1468.2 1078.2,1482.3 1077.9,1499.7 C1077.6,1517.1 1076.9,1532.4 1078.7,1543.9 C1080.5,1555.4 1080.4,1554.3 1087.0,1557.2 C1093.6,1560.1 1100.8,1559.2 1111.9,1558.3 C1122.9,1557.4 1132.9,1555.0 1142.3,1552.8 C1151.7,1550.6 1155.6,1548.4 1158.9,1547.3" fill="none" stroke="#6b8db6" stroke-width="11.6" stroke-linejoin="round" stroke-linecap="butt"/>
<path d="M1165.8,1428.4 C1173.8,1431.3 1195.8,1437.3 1205.9,1443.0 C1215.9,1448.7 1213.3,1445.5 1216.1,1456.9 C1218.9,1468.2 1218.7,1482.8 1219.7,1499.7 C1220.7,1516.6 1222.1,1529.7 1221.1,1541.2 C1220.1,1552.7 1221.1,1553.8 1214.7,1557.2 C1208.4,1560.6 1200.5,1559.9 1189.3,1558.3 C1178.1,1556.8 1176.1,1555.7 1158.9,1549.5 C1141.6,1543.3 1114.2,1531.8 1103.0,1527.4" fill="none" stroke="#6b8db6" stroke-width="11.6" stroke-linejoin="round" stroke-linecap="butt"/>
<path d="M1129.9,1428.4 L1147.8,1433.4 L1165.8,1428.4" fill="none" stroke="#6b8db6" stroke-width="11.6" stroke-linejoin="round" stroke-linecap="butt"/>
<path d="M1103.0,1471.5 L1103.0,1527.4 M1192.1,1470.7 L1192.1,1503.9" fill="none" stroke="#6b8db6" stroke-width="11.6" stroke-linejoin="round" stroke-linecap="butt"/>
<path d="M1103.0,1517.7 C1105.9,1517.4 1111.3,1515.9 1120.2,1515.7 C1129.0,1515.6 1146.4,1516.2 1156.1,1516.8 C1165.8,1517.5 1170.8,1518.4 1178.2,1519.6 C1185.7,1520.8 1197.1,1523.3 1200.9,1524.0" fill="none" stroke="#6b8db6" stroke-width="11.6" stroke-linejoin="round" stroke-linecap="butt"/>
<path d="M1157.5,1515.7 C1161.0,1513.9 1171.8,1506.8 1178.2,1504.7 C1184.7,1502.6 1191.6,1501.6 1196.2,1503.0 C1200.8,1504.5 1205.1,1509.7 1205.9,1513.5 C1206.7,1517.4 1202.0,1523.9 1201.2,1526.0" fill="none" stroke="#6b8db6" stroke-width="11.6" stroke-linejoin="round" stroke-linecap="butt"/>
<path d="M1100.8,1563.3 L1100.8,1793.0 M1193.4,1560.0 L1193.4,1793.0" fill="none" stroke="#6b8db6" stroke-width="11.6" stroke-linejoin="round" stroke-linecap="butt"/>
<path d="M1125.7,1793.0 L1143.7,1616.4 L1151.1,1616.4 L1168.6,1793.0" fill="none" stroke="#6b8db6" stroke-width="11.6" stroke-linejoin="round" stroke-linecap="butt" stroke-linejoin="miter"/>
<path d="M408.73,1495.72 A111.3,111.3 0 0 1 480.12,1690.38" fill="none" stroke="#f9536f" stroke-width="33.5"/>
<path d="M477.76,1692.41 A111.3,111.3 0 1 1 404.07,1495.72" fill="none" stroke="#d7d8da" stroke-width="33.5"/>
<text x="342.3" y="1595.3" font-family="'Liberation Sans',sans-serif" font-size="53.62" font-weight="bold" fill="#f9536f" textLength="132.8" lengthAdjust="spacingAndGlyphs" stroke="#f9536f" stroke-width="4" stroke-linejoin="round">38,7</text>
<text x="366.7" y="1673.5" font-family="'Liberation Sans',sans-serif" font-size="81.16" font-weight="bold" fill="#f9536f" textLength="81.0" lengthAdjust="spacingAndGlyphs" stroke="#f9536f" stroke-width="4" stroke-linejoin="round">%</text>
<path d="M833.53,1496.22 A111.3,111.3 0 1 1 759.84,1692.91" fill="none" stroke="#6b8db6" stroke-width="33.5"/>
<path d="M757.48,1690.88 A111.3,111.3 0 0 1 828.87,1496.22" fill="none" stroke="#d7d8da" stroke-width="33.5"/>
<text x="770.4" y="1595.3" font-family="'Liberation Sans',sans-serif" font-size="53.62" font-weight="bold" fill="#6b8db6" textLength="124.9" lengthAdjust="spacingAndGlyphs" stroke="#6b8db6" stroke-width="4" stroke-linejoin="round">61,3</text>
<text x="791.2" y="1673.5" font-family="'Liberation Sans',sans-serif" font-size="81.16" font-weight="bold" fill="#6b8db6" textLength="79.4" lengthAdjust="spacingAndGlyphs" stroke="#6b8db6" stroke-width="4" stroke-linejoin="round">%</text>
<g transform="translate(564.7,1722) scale(1.050)"><clipPath id="gc564_1722"><circle r="19"/></clipPath><circle r="19" fill="#3a2945" stroke="#fff" stroke-width="2.4"/><g clip-path="url(#gc564_1722)"><path d="M-17.4,30 L22.6,-10 M-15.3,30 L24.7,-10 M-13.2,30 L26.8,-10 M-11.1,30 L28.9,-10 M-9.0,30 L31.0,-10 M-6.9,30 L33.1,-10 M-4.8,30 L35.2,-10 M-2.7,30 L37.3,-10 M-0.6,30 L39.4,-10 M1.5,30 L41.5,-10 M3.6,30 L43.6,-10 M5.7,30 L45.7,-10 M7.8,30 L47.8,-10 M9.9,30 L49.9,-10 M12.0,30 L52.0,-10 M14.1,30 L54.1,-10 M16.2,30 L56.2,-10 M18.3,30 L58.3,-10 M20.4,30 L60.4,-10 M22.5,30 L62.5,-10 " fill="none" stroke="#fff" stroke-width="1.25"/><path d="M-38.4,30 L1.6,-10 M-34.2,30 L5.8,-10 M-30.0,30 L10.0,-10 M-25.8,30 L14.2,-10 M-21.6,30 L18.4,-10 " fill="none" stroke="#fff" stroke-width="0.7"/><path d="M-15,-8 Q-12,-15 -4,-16 Q4,-17 9,-11 Q10,-6 6,-4 Q3,-3 3,1 Q2,4 -1,5 Q-3,4 -4,1 Q-6,-3 -10,-4 Q-14,-4 -15,-8Z M-1,5.5 Q4,5 8,9 Q9,12 6,15 Q3,17 2,18.5 Q0,14 -1,10 Q-3,7 -1,5.5Z" fill="#3a2945" stroke="#fff" stroke-width="1"/><path d="M-8,-12 q3,3 1,6 q4,1 5,-3 M-6,-7 q2,3 6,2" fill="none" stroke="#fff" stroke-width="0.8"/></g><circle cx="-1.5" cy="4.2" r="2.3" fill="#e8862a"/></g>
<text x="586.8" y="1741.5" font-family="'Liberation Serif',serif" font-size="77.2" fill="#fff" stroke="#fff" stroke-width="1.5" textLength="112.1" lengthAdjust="spacingAndGlyphs">ens</text>
<text x="545.6" y="1766.6" font-family="'Liberation Serif',serif" font-size="20.2" fill="#fff" stroke="#fff" stroke-width="0.35" textLength="146.7" lengthAdjust="spacingAndGlyphs">ensegundos.com.pa</text>
<g fill="none" stroke="#e8862a" stroke-width="1.3"><circle cx="696.8" cy="1760.6" r="2.1"/><path d="M694.0,1769.1 q0,-5 2.8,-5 q2.8,0 2.8,5 M696.8,1764.1 v6"/></g>
<text x="260.1" y="1862.7" font-family="'Liberation Sans',sans-serif" font-size="32.75" font-weight="bold" fill="#808080" textLength="758.4" lengthAdjust="spacingAndGlyphs" stroke="#808080" stroke-width="3.1" stroke-linejoin="round">¿DÓNDE BUSCAN LOS MIGRANTES</text>
<text x="291.7" y="1903.2" font-family="'Liberation Sans',sans-serif" font-size="32.75" font-weight="bold" fill="#808080" textLength="694.3" lengthAdjust="spacingAndGlyphs" stroke="#808080" stroke-width="3.1" stroke-linejoin="round">OPORTUNIDADES LABORALES?</text>
<text x="351.8" y="1956.9" font-family="'Liberation Sans',sans-serif" font-size="30.43" font-weight="normal" fill="#2c3a7c" textLength="575.6" lengthAdjust="spacingAndGlyphs">NIVEL DE INGRESOS DE LOS PAÍSES DESTINO</text>
<g transform="translate(1133.2,1855.3) scale(1.015)"><clipPath id="gc1133_1855"><circle r="19"/></clipPath><circle r="19" fill="#fff" stroke="#1a1a1a" stroke-width="2.4"/><g clip-path="url(#gc1133_1855)"><path d="M-17.4,30 L22.6,-10 M-15.3,30 L24.7,-10 M-13.2,30 L26.8,-10 M-11.1,30 L28.9,-10 M-9.0,30 L31.0,-10 M-6.9,30 L33.1,-10 M-4.8,30 L35.2,-10 M-2.7,30 L37.3,-10 M-0.6,30 L39.4,-10 M1.5,30 L41.5,-10 M3.6,30 L43.6,-10 M5.7,30 L45.7,-10 M7.8,30 L47.8,-10 M9.9,30 L49.9,-10 M12.0,30 L52.0,-10 M14.1,30 L54.1,-10 M16.2,30 L56.2,-10 M18.3,30 L58.3,-10 M20.4,30 L60.4,-10 M22.5,30 L62.5,-10 " fill="none" stroke="#1a1a1a" stroke-width="1.25"/><path d="M-38.4,30 L1.6,-10 M-34.2,30 L5.8,-10 M-30.0,30 L10.0,-10 M-25.8,30 L14.2,-10 M-21.6,30 L18.4,-10 " fill="none" stroke="#1a1a1a" stroke-width="0.7"/><path d="M-15,-8 Q-12,-15 -4,-16 Q4,-17 9,-11 Q10,-6 6,-4 Q3,-3 3,1 Q2,4 -1,5 Q-3,4 -4,1 Q-6,-3 -10,-4 Q-14,-4 -15,-8Z M-1,5.5 Q4,5 8,9 Q9,12 6,15 Q3,17 2,18.5 Q0,14 -1,10 Q-3,7 -1,5.5Z" fill="#fff" stroke="#1a1a1a" stroke-width="1"/><path d="M-8,-12 q3,3 1,6 q4,1 5,-3 M-6,-7 q2,3 6,2" fill="none" stroke="#1a1a1a" stroke-width="0.8"/></g><circle cx="-1.5" cy="4.2" r="2.3" fill="#e8862a"/></g>
<text x="1156.8" y="1873.5" font-family="'Liberation Serif',serif" font-size="73.5" fill="#1a1a1a" stroke="#1a1a1a" stroke-width="1.5" textLength="100.1" lengthAdjust="spacingAndGlyphs">ens</text>
<text x="1114.9" y="1894.7" font-family="'Liberation Serif',serif" font-size="19.1" fill="#1a1a1a" stroke="#1a1a1a" stroke-width="0.35" textLength="135.7" lengthAdjust="spacingAndGlyphs">ensegundos.com.pa</text>
<g fill="none" stroke="#e8862a" stroke-width="1.3"><circle cx="1255.2" cy="1888.7" r="2.1"/><path d="M1252.4,1897.2 q0,-5 2.8,-5 q2.8,0 2.8,5 M1255.2,1892.2 v6"/></g>
<text x="352.6" y="2049.8" font-family="'Liberation Sans',sans-serif" font-size="54.36" font-weight="normal" fill="#3a3a3a" textLength="56.8" lengthAdjust="spacingAndGlyphs" stroke="#3a3a3a" stroke-width="0.494" stroke-linejoin="round">68,4</text>
<text x="419.0" y="2055.8" font-family="'Liberation Sans',sans-serif" font-size="66.47" font-weight="normal" fill="#3a3a3a" textLength="30.0" lengthAdjust="spacingAndGlyphs" stroke="#3a3a3a" stroke-width="0.494" stroke-linejoin="round" font-style="italic">%</text>
<text x="906.9" y="2049.8" font-family="'Liberation Sans',sans-serif" font-size="54.36" font-weight="normal" fill="#3a3a3a" textLength="57.5" lengthAdjust="spacingAndGlyphs" stroke="#3a3a3a" stroke-width="0.494" stroke-linejoin="round">17,4</text>
<text x="974.0" y="2055.8" font-family="'Liberation Sans',sans-serif" font-size="66.47" font-weight="normal" fill="#3a3a3a" textLength="29.9" lengthAdjust="spacingAndGlyphs" stroke="#3a3a3a" stroke-width="0.494" stroke-linejoin="round" font-style="italic">%</text>
<text x="1074.8" y="2049.8" font-family="'Liberation Sans',sans-serif" font-size="54.36" font-weight="normal" fill="#3a3a3a" textLength="59.1" lengthAdjust="spacingAndGlyphs" stroke="#3a3a3a" stroke-width="0.494" stroke-linejoin="round">10,9</text>
<text x="1143.1" y="2055.8" font-family="'Liberation Sans',sans-serif" font-size="66.47" font-weight="normal" fill="#3a3a3a" textLength="30.4" lengthAdjust="spacingAndGlyphs" stroke="#3a3a3a" stroke-width="0.494" stroke-linejoin="round" font-style="italic">%</text>
<text x="1188.2" y="2049.8" font-family="'Liberation Sans',sans-serif" font-size="54.36" font-weight="normal" fill="#3a3a3a" textLength="51.6" lengthAdjust="spacingAndGlyphs" stroke="#3a3a3a" stroke-width="0.494" stroke-linejoin="round">3,3</text>
<text x="1247.1" y="2055.8" font-family="'Liberation Sans',sans-serif" font-size="66.47" font-weight="normal" fill="#3a3a3a" textLength="26.5" lengthAdjust="spacingAndGlyphs" stroke="#3a3a3a" stroke-width="0.494" stroke-linejoin="round" font-style="italic">%</text>
<rect x="19.2" y="2072" width="826" height="155" fill="#4f81bd"/>
<rect x="844.6" y="2072" width="210.2" height="155" fill="#e96c72"/>
<rect x="1054.6" y="2072" width="131.6" height="155" fill="#7fcbcf"/>
<rect x="1186" y="2072" width="40.3" height="155" fill="#dfa083"/>
<rect x="18.6" y="2068" width="1.2" height="125" fill="#111"/>
<text x="283.5" y="2189.5" font-family="'Liberation Sans',sans-serif" font-size="108.71" font-weight="normal" fill="#fff" textLength="203.5" lengthAdjust="spacingAndGlyphs" stroke="#fff" stroke-width="0.988" stroke-linejoin="round">114,7 M</text>
<text x="883.8" y="2175.7" font-family="'Liberation Sans',sans-serif" font-size="74.38" font-weight="normal" fill="#fff" textLength="132.0" lengthAdjust="spacingAndGlyphs" stroke="#fff" stroke-width="0.6759999999999999" stroke-linejoin="round">29,2 M</text>
<text x="1077.9" y="2172.8" font-family="'Liberation Sans',sans-serif" font-size="54.36" font-weight="normal" fill="#fff" textLength="87.9" lengthAdjust="spacingAndGlyphs" stroke="#fff" stroke-width="0.494" stroke-linejoin="round">18,2 M</text>
<text x="1190.9" y="2170.8" font-family="'Liberation Sans',sans-serif" font-size="41.48" font-weight="normal" fill="#111" textLength="55.4" lengthAdjust="spacingAndGlyphs" stroke="#111" stroke-width="0.377" stroke-linejoin="round">5,5 M</text>
<rect x="162" y="2272" width="24.3" height="23.5" fill="#4f81bd"/>
<text x="192.7" y="2299.8" font-family="'Liberation Sans',sans-serif" font-size="40.05" font-weight="normal" fill="#111" textLength="123.5" lengthAdjust="spacingAndGlyphs" stroke="#111" stroke-width="0.364" stroke-linejoin="round">INGRESO ALTO</text>
<rect x="368.7" y="2272" width="24.3" height="23.5" fill="#e96c72"/>
<text x="404.3" y="2299.8" font-family="'Liberation Sans',sans-serif" font-size="40.05" font-weight="normal" fill="#111" textLength="205.4" lengthAdjust="spacingAndGlyphs" stroke="#111" stroke-width="0.364" stroke-linejoin="round">INGRESO MEDIANO ALTO</text>
<rect x="660" y="2272" width="24.3" height="23.5" fill="#7fcbcf"/>
<text x="691.7" y="2299.8" font-family="'Liberation Sans',sans-serif" font-size="40.05" font-weight="normal" fill="#111" textLength="208.5" lengthAdjust="spacingAndGlyphs" stroke="#111" stroke-width="0.364" stroke-linejoin="round">INGRESO MEDIANO BAJO</text>
<rect x="933.5" y="2272" width="24.3" height="23.5" fill="#dfa083"/>
<text x="966.7" y="2299.8" font-family="'Liberation Sans',sans-serif" font-size="40.05" font-weight="normal" fill="#111" textLength="125.0" lengthAdjust="spacingAndGlyphs" stroke="#111" stroke-width="0.364" stroke-linejoin="round">INGRESO BAJO</text>
<rect x="339.0" y="2253.5" width="3.4" height="63" fill="#111"/>
<rect x="631.0" y="2253.5" width="3.4" height="63" fill="#111"/>
<rect x="919.3" y="2253.5" width="3.4" height="63" fill="#111"/>
<text x="81.0" y="2416.8" font-family="'Liberation Sans',sans-serif" font-size="51.50" font-weight="normal" fill="#3b2748" textLength="1116.6" lengthAdjust="spacingAndGlyphs" stroke="#3b2748" stroke-width="0.46799999999999997" stroke-linejoin="round">EL MAYOR NIVEL DE VIDA Y LAS MEJORES OPORTUNIDADES EN EL MERCADO LABORAL DE ESTOS</text>
<text x="213.7" y="2470.8" font-family="'Liberation Sans',sans-serif" font-size="50.07" font-weight="normal" fill="#3b2748" textLength="851.9" lengthAdjust="spacingAndGlyphs" stroke="#3b2748" stroke-width="0.45499999999999996" stroke-linejoin="round">PAÍSES FUERON FACTORES CLAVE EN LA REUBICACIÓN DE LOS MIGRANTES.</text>
<rect x="0" y="2512" width="1280" height="2" fill="#b9b9b9"/>
<text x="192.6" y="2581.8" font-family="'Liberation Sans',sans-serif" font-size="32.90" font-weight="bold" fill="#808080" textLength="893.9" lengthAdjust="spacingAndGlyphs" stroke="#808080" stroke-width="3.1" stroke-linejoin="round">¿QUÉ REGIONES ACOGEN A LA MAYORÍA</text>
<text x="127.5" y="2625.2" font-family="'Liberation Sans',sans-serif" font-size="32.90" font-weight="bold" fill="#808080" textLength="1022.6" lengthAdjust="spacingAndGlyphs" stroke="#808080" stroke-width="3.1" stroke-linejoin="round">DE LOS MIGRANTES EN LA FUERZA LABORAL?</text>
<g transform="translate(44.2,2702.5) scale(1.005)"><clipPath id="gc44_2702"><circle r="19"/></clipPath><circle r="19" fill="#fff" stroke="#1a1a1a" stroke-width="2.4"/><g clip-path="url(#gc44_2702)"><path d="M-17.4,30 L22.6,-10 M-15.3,30 L24.7,-10 M-13.2,30 L26.8,-10 M-11.1,30 L28.9,-10 M-9.0,30 L31.0,-10 M-6.9,30 L33.1,-10 M-4.8,30 L35.2,-10 M-2.7,30 L37.3,-10 M-0.6,30 L39.4,-10 M1.5,30 L41.5,-10 M3.6,30 L43.6,-10 M5.7,30 L45.7,-10 M7.8,30 L47.8,-10 M9.9,30 L49.9,-10 M12.0,30 L52.0,-10 M14.1,30 L54.1,-10 M16.2,30 L56.2,-10 M18.3,30 L58.3,-10 M20.4,30 L60.4,-10 M22.5,30 L62.5,-10 " fill="none" stroke="#1a1a1a" stroke-width="1.25"/><path d="M-38.4,30 L1.6,-10 M-34.2,30 L5.8,-10 M-30.0,30 L10.0,-10 M-25.8,30 L14.2,-10 M-21.6,30 L18.4,-10 " fill="none" stroke="#1a1a1a" stroke-width="0.7"/><path d="M-15,-8 Q-12,-15 -4,-16 Q4,-17 9,-11 Q10,-6 6,-4 Q3,-3 3,1 Q2,4 -1,5 Q-3,4 -4,1 Q-6,-3 -10,-4 Q-14,-4 -15,-8Z M-1,5.5 Q4,5 8,9 Q9,12 6,15 Q3,17 2,18.5 Q0,14 -1,10 Q-3,7 -1,5.5Z" fill="#fff" stroke="#1a1a1a" stroke-width="1"/><path d="M-8,-12 q3,3 1,6 q4,1 5,-3 M-6,-7 q2,3 6,2" fill="none" stroke="#1a1a1a" stroke-width="0.8"/></g><circle cx="-1.5" cy="4.2" r="2.3" fill="#e8862a"/></g>
<text x="67.8" y="2720.1" font-family="'Liberation Serif',serif" font-size="73.0" fill="#1a1a1a" stroke="#1a1a1a" stroke-width="1.5" textLength="100.1" lengthAdjust="spacingAndGlyphs">ens</text>
<text x="25.9" y="2741.9" font-family="'Liberation Serif',serif" font-size="19.1" fill="#1a1a1a" stroke="#1a1a1a" stroke-width="0.35" textLength="135.7" lengthAdjust="spacingAndGlyphs">ensegundos.com.pa</text>
<g fill="none" stroke="#e8862a" stroke-width="1.3"><circle cx="166.2" cy="2735.9" r="2.1"/><path d="M163.4,2744.4 q0,-5 2.8,-5 q2.8,0 2.8,5 M166.2,2739.4 v6"/></g>
<path d="M205.0,2889.0 C205.0,2887.3 221.1,2883.7 229.7,2879.1 C238.4,2874.5 241.5,2875.0 242.1,2869.2 C242.7,2863.4 231.6,2862.4 232.2,2854.3 C232.8,2846.2 239.4,2843.2 244.6,2834.5 C249.8,2825.8 246.4,2822.4 254.5,2817.2 C262.6,2812.0 265.4,2810.5 279.3,2812.2 C293.1,2813.9 298.9,2818.2 313.9,2824.6 C329.0,2830.9 333.3,2831.4 343.7,2839.4 C354.1,2847.5 349.3,2853.5 358.5,2859.3 C367.8,2865.0 371.7,2860.7 383.3,2864.2 C394.9,2867.7 400.0,2867.2 408.1,2874.1 C416.2,2881.1 419.1,2888.2 418.0,2893.9 C416.8,2899.7 407.7,2893.1 403.1,2898.9 C398.5,2904.7 395.8,2911.8 398.2,2918.7 C400.5,2925.6 407.2,2930.9 413.0,2928.6 C418.8,2926.3 419.5,2916.9 422.9,2908.8 C426.4,2900.7 422.1,2893.9 427.9,2893.9 C433.7,2893.9 441.3,2899.6 447.7,2908.8 C454.1,2918.0 455.1,2924.3 455.1,2933.6 C455.1,2942.8 454.1,2942.7 447.7,2948.4 C441.3,2954.2 427.3,2957.8 427.9,2958.3 C428.5,2958.9 443.8,2951.5 450.2,2950.9 C456.5,2950.3 459.2,2951.8 455.1,2955.9 C451.1,2959.9 443.8,2963.0 432.8,2968.2 C421.9,2973.5 417.9,2972.4 408.1,2978.2 C398.2,2983.9 397.1,2986.7 390.7,2993.0 C384.4,2999.4 384.3,2999.6 380.8,3005.4 C377.4,3011.2 375.9,3011.4 375.9,3017.8 C375.9,3024.1 380.8,3030.3 380.8,3032.7 C380.8,3035.0 378.2,3032.9 375.9,3027.7 C373.6,3022.5 377.3,3015.0 370.9,3010.4 C364.6,3005.7 357.3,3006.1 348.6,3007.9 C339.9,3009.6 337.8,3010.9 333.8,3017.8 C329.7,3024.7 328.4,3030.1 331.3,3037.6 C334.2,3045.1 339.8,3047.7 346.1,3050.0 C352.5,3052.3 355.1,3050.4 358.5,3047.5 C362.0,3044.6 359.3,3037.0 361.0,3037.6 C362.7,3038.2 367.1,3044.2 366.0,3050.0 C364.8,3055.8 355.5,3057.2 356.0,3062.4 C356.6,3067.6 362.1,3068.8 368.4,3072.3 C374.8,3075.7 379.2,3077.2 383.3,3077.2 C387.3,3077.2 386.9,3072.3 385.8,3072.3 C384.6,3072.3 383.5,3078.4 378.3,3077.2 C373.1,3076.1 371.6,3072.5 363.5,3067.3 C355.4,3062.1 352.9,3061.9 343.7,3054.9 C334.4,3048.0 332.5,3047.4 323.8,3037.6 C315.2,3027.8 312.3,3023.2 306.5,3012.8 C300.7,3002.4 303.7,3003.4 299.1,2993.0 C294.5,2982.6 290.2,2977.5 286.7,2968.2 C283.2,2959.0 283.1,2960.3 284.2,2953.4 C285.4,2946.5 290.5,2948.9 291.6,2938.5 C292.8,2928.1 290.9,2920.4 289.2,2908.8 C287.4,2897.2 288.8,2898.2 284.2,2889.0 C279.6,2879.7 276.3,2872.1 269.4,2869.2 C262.4,2866.3 263.7,2872.6 254.5,2876.6 C245.2,2880.6 241.3,2883.6 229.7,2886.5 C218.2,2889.4 205.0,2890.7 205.0,2889.0Z M343.7,2829.5 C347.1,2821.4 350.8,2815.5 363.5,2809.7 C376.2,2803.9 382.0,2804.8 398.2,2804.8 C414.3,2804.8 417.8,2806.8 432.8,2809.7 C447.9,2812.6 459.1,2812.5 462.6,2817.2 C466.0,2821.8 454.6,2820.9 447.7,2829.5 C440.8,2838.2 440.9,2846.2 432.8,2854.3 C424.7,2862.4 423.4,2863.1 413.0,2864.2 C402.6,2865.4 398.7,2861.6 388.2,2859.3 C377.8,2857.0 377.7,2857.8 368.4,2854.3 C359.2,2850.8 354.4,2850.2 348.6,2844.4 C342.8,2838.6 340.2,2837.6 343.7,2829.5Z M418.0,2859.3 C420.3,2853.5 429.7,2849.7 437.8,2854.3 C445.9,2858.9 451.5,2869.8 452.7,2879.1 C453.8,2888.3 448.5,2893.9 442.7,2893.9 C437.0,2893.9 433.7,2887.2 427.9,2879.1 C422.1,2871.0 415.7,2865.0 418.0,2859.3Z M455.1,2827.1 C457.4,2820.1 465.3,2821.9 477.4,2819.6 C489.6,2817.3 492.1,2816.0 507.1,2817.2 C522.2,2818.3 530.8,2821.7 541.8,2824.6 C552.8,2827.5 554.2,2821.4 554.2,2829.5 C554.2,2837.6 548.2,2847.7 541.8,2859.3 C535.5,2870.8 535.1,2871.0 527.0,2879.1 C518.9,2887.2 515.2,2887.0 507.1,2893.9 C499.1,2900.9 498.1,2904.2 492.3,2908.8 C486.5,2913.4 486.4,2916.1 482.4,2913.8 C478.3,2911.4 477.8,2908.1 474.9,2898.9 C472.1,2889.6 471.7,2885.7 470.0,2874.1 C468.3,2862.6 471.0,2860.3 467.5,2849.4 C464.0,2838.4 452.8,2834.0 455.1,2827.1Z M529.4,2896.4 C533.8,2894.6 542.2,2893.4 546.8,2894.9 C551.4,2896.4 551.6,2900.2 549.3,2902.9 C546.9,2905.5 541.8,2906.3 536.9,2906.3 C531.9,2906.3 529.7,2905.2 528.0,2902.9 C526.2,2900.5 525.0,2898.3 529.4,2896.4Z M385.8,3069.8 C390.4,3066.3 390.6,3063.5 398.2,3062.4 C405.7,3061.2 408.7,3061.4 418.0,3064.9 C427.2,3068.3 430.9,3069.7 437.8,3077.2 C444.7,3084.7 438.4,3090.7 447.7,3097.1 C456.9,3103.4 468.2,3101.0 477.4,3104.5 C486.7,3108.0 486.2,3105.6 487.3,3111.9 C488.5,3118.3 485.8,3122.5 482.4,3131.7 C478.9,3141.0 478.2,3144.6 472.5,3151.5 C466.7,3158.5 463.4,3153.4 457.6,3161.5 C451.8,3169.5 453.5,3175.8 447.7,3186.2 C441.9,3196.6 437.5,3196.8 432.8,3206.0 C428.2,3215.3 430.8,3217.2 427.9,3225.9 C425.0,3234.5 419.9,3235.7 420.4,3243.2 C421.0,3250.7 430.9,3254.6 430.4,3258.1 C429.8,3261.5 423.2,3262.1 418.0,3258.1 C412.8,3254.0 411.5,3250.5 408.1,3240.7 C404.6,3230.9 405.4,3228.7 403.1,3215.9 C400.8,3203.2 399.3,3200.1 398.2,3186.2 C397.0,3172.4 401.6,3168.1 398.2,3156.5 C394.7,3144.9 390.2,3147.1 383.3,3136.7 C376.4,3126.3 371.3,3122.3 368.4,3111.9 C365.5,3101.5 368.6,3100.2 370.9,3092.1 C373.2,3084.0 374.9,3082.4 378.3,3077.2 C381.8,3072.0 381.1,3073.3 385.8,3069.8Z M373.4,3037.6 C374.5,3036.0 386.3,3034.9 393.2,3036.6 C400.1,3038.3 404.3,3043.4 403.1,3045.0 C402.0,3046.7 395.2,3045.3 388.2,3043.5 C381.3,3041.8 372.2,3039.2 373.4,3037.6Z M549.7,3012.8 C557.2,3006.5 558.0,3003.9 569.5,3000.4 C581.1,2997.0 586.5,2998.0 599.3,2998.0 C612.0,2998.0 615.9,2997.6 624.0,3000.4 C632.1,3003.3 627.0,3007.5 633.9,3010.4 C640.9,3013.2 645.7,3011.1 653.8,3012.8 C661.8,3014.6 662.8,3009.7 668.6,3017.8 C674.4,3025.9 673.3,3034.8 678.5,3047.5 C683.7,3060.2 684.0,3064.2 690.9,3072.3 C697.8,3080.4 702.5,3078.1 708.2,3082.2 C714.0,3086.2 718.0,3082.7 715.7,3089.6 C713.4,3096.6 707.0,3102.1 698.3,3111.9 C689.7,3121.7 683.7,3121.3 678.5,3131.7 C673.3,3142.1 679.5,3147.3 676.0,3156.5 C672.6,3165.7 668.9,3165.6 663.7,3171.4 C658.5,3177.1 659.5,3178.4 653.8,3181.3 C648.0,3184.2 645.8,3182.6 638.9,3183.7 C632.0,3184.9 629.2,3190.3 624.0,3186.2 C618.8,3182.2 620.1,3178.0 616.6,3166.4 C613.1,3154.8 611.5,3149.4 609.2,3136.7 C606.9,3124.0 609.0,3122.3 606.7,3111.9 C604.4,3101.5 605.6,3097.9 599.3,3092.1 C592.9,3086.3 589.9,3087.7 579.4,3087.1 C569.0,3086.6 564.5,3093.7 554.7,3089.6 C544.9,3085.6 542.5,3079.6 537.3,3069.8 C532.1,3060.0 532.4,3057.3 532.4,3047.5 C532.4,3037.7 533.3,3035.8 537.3,3027.7 C541.4,3019.6 542.2,3019.2 549.7,3012.8Z M690.9,3134.2 C694.7,3127.3 697.9,3122.6 700.8,3124.3 C703.7,3126.0 705.0,3133.0 703.3,3141.6 C701.6,3150.3 697.8,3158.6 693.4,3161.5 C689.0,3164.3 685.0,3160.4 684.5,3154.0 C683.9,3147.7 687.1,3141.1 690.9,3134.2Z M553.7,2998.0 C548.5,2995.1 549.1,2988.3 552.2,2983.1 C555.3,2977.9 564.8,2980.3 567.1,2975.7 C569.4,2971.1 559.2,2969.7 562.1,2963.3 C565.0,2956.9 571.9,2956.5 579.4,2948.4 C587.0,2940.3 589.1,2937.9 594.3,2928.6 C599.5,2919.4 600.6,2915.7 601.7,2908.8 C602.9,2901.9 597.5,2904.7 599.3,2898.9 C601.0,2893.1 601.1,2889.2 609.2,2884.0 C617.3,2878.8 621.2,2880.6 633.9,2876.6 C646.7,2872.6 652.1,2868.4 663.7,2866.7 C675.2,2865.0 677.7,2865.7 683.5,2869.2 C689.3,2872.6 690.7,2877.5 688.4,2881.6 C686.1,2885.6 675.9,2882.5 673.6,2886.5 C671.3,2890.6 673.9,2898.9 678.5,2898.9 C683.1,2898.9 686.5,2892.3 693.4,2886.5 C700.3,2880.7 702.5,2880.5 708.2,2874.1 C714.0,2867.8 711.2,2863.9 718.2,2859.3 C725.1,2854.6 729.9,2858.9 738.0,2854.3 C746.1,2849.7 745.9,2845.2 752.8,2839.4 C759.8,2833.7 757.3,2836.5 767.7,2829.5 C778.1,2822.6 783.5,2815.5 797.4,2809.7 C811.3,2803.9 817.9,2803.0 827.1,2804.8 C836.4,2806.5 827.8,2813.1 837.1,2817.2 C846.3,2821.2 852.9,2820.4 866.8,2822.1 C880.6,2823.8 883.8,2826.3 896.5,2824.6 C909.2,2822.9 914.4,2819.2 921.3,2814.7 C928.1,2810.2 919.0,2805.8 925.9,2805.2 C932.8,2804.6 944.3,2809.2 950.8,2812.1 C957.2,2815.0 955.5,2814.4 953.5,2817.6 C951.6,2820.9 946.3,2821.7 942.5,2825.9 C938.6,2830.1 936.9,2832.4 936.9,2835.6 C936.9,2838.8 945.1,2836.5 942.5,2839.8 C939.9,2843.0 930.4,2846.2 925.9,2849.4 C921.4,2852.7 924.7,2850.7 923.1,2853.6 C921.5,2856.5 919.0,2855.4 919.0,2861.9 C919.0,2868.3 921.5,2872.2 923.1,2881.2 C924.7,2890.3 927.2,2897.4 925.9,2900.6 C924.6,2903.8 921.1,2899.6 917.6,2895.1 C914.0,2890.5 912.0,2887.7 910.7,2881.2 C909.4,2874.8 911.1,2873.5 912.1,2867.4 C913.0,2861.3 916.8,2856.9 914.8,2855.0 C912.9,2853.0 907.6,2854.9 903.8,2859.1 C899.9,2863.3 903.4,2868.4 898.2,2872.9 C893.1,2877.5 887.5,2875.2 881.6,2878.5 C875.8,2881.7 875.9,2881.6 873.4,2886.8 C870.8,2891.9 868.7,2897.4 870.6,2900.6 C872.5,2903.8 877.5,2898.7 881.6,2900.6 C885.8,2902.5 886.0,2903.7 888.6,2908.9 C891.1,2914.0 892.4,2915.6 892.7,2922.7 C893.0,2929.8 892.5,2931.6 889.9,2939.3 C887.4,2947.0 884.6,2949.4 881.6,2955.9 C878.7,2962.3 877.5,2963.7 877.5,2966.9 C877.5,2970.2 880.0,2966.5 881.6,2969.7 C883.3,2972.9 884.7,2977.5 884.4,2980.8 C884.1,2984.0 882.2,2984.8 880.3,2983.5 C878.3,2982.2 878.4,2979.1 876.1,2975.2 C873.9,2971.4 873.8,2970.2 870.6,2966.9 C867.4,2963.7 865.5,2961.4 862.3,2961.4 C859.1,2961.4 856.1,2965.0 856.8,2966.9 C857.4,2968.9 861.8,2967.8 865.1,2969.7 C868.3,2971.6 869.9,2972.0 870.6,2975.2 C871.2,2978.5 867.8,2979.0 867.8,2983.5 C867.8,2988.0 869.3,2989.4 870.6,2994.6 C871.9,2999.8 873.7,3000.5 873.4,3005.6 C873.0,3010.8 871.8,3012.2 869.2,3016.7 C866.6,3021.2 865.8,3021.8 862.3,3025.0 C858.7,3028.2 857.9,3028.6 854.0,3030.5 C850.1,3032.5 849.3,3033.0 845.7,3033.3 C842.2,3033.6 839.4,3030.6 838.8,3031.9 C838.1,3033.2 836.2,3030.8 842.9,3038.8 C849.7,3046.9 861.4,3057.4 867.8,3066.5 C874.3,3075.5 871.9,3072.4 870.6,3077.5 C869.3,3082.7 865.8,3084.7 862.3,3088.6 C858.7,3092.5 858.0,3094.4 855.4,3094.1 C852.8,3093.8 854.1,3090.4 851.2,3087.2 C848.3,3084.0 846.8,3084.5 842.9,3080.3 C839.1,3076.1 837.9,3072.5 834.6,3069.2 C831.4,3066.0 831.1,3064.5 829.1,3066.5 C827.2,3068.4 825.7,3071.1 826.4,3077.5 C827.0,3084.0 828.7,3087.0 831.9,3094.1 C835.1,3101.2 839.2,3104.7 840.2,3107.9 C841.1,3111.2 839.6,3111.2 836.0,3107.9 C832.5,3104.7 828.8,3101.2 825.0,3094.1 C821.1,3087.0 820.4,3085.3 819.4,3077.5 C818.5,3069.8 821.8,3068.7 820.8,3060.9 C819.9,3053.2 817.9,3050.2 815.3,3044.4 C812.7,3038.5 813.0,3039.3 809.8,3036.1 C806.5,3032.8 805.3,3031.2 801.5,3030.5 C797.6,3029.9 797.0,3029.4 793.2,3033.3 C789.3,3037.2 788.1,3040.0 784.9,3047.1 C781.7,3054.2 781.9,3058.5 779.4,3063.7 C776.8,3068.9 776.4,3069.9 773.8,3069.2 C771.2,3068.6 771.5,3068.0 768.3,3060.9 C765.1,3053.8 760.7,3045.4 760.0,3038.8 C759.3,3032.2 765.7,3035.2 765.2,3032.7 C764.7,3030.1 764.1,3030.0 757.8,3027.7 C751.4,3025.4 746.1,3026.2 738.0,3022.7 C729.9,3019.3 728.9,3014.6 723.1,3012.8 C717.3,3011.1 714.4,3013.0 713.2,3015.3 C712.0,3017.6 713.5,3018.7 718.2,3022.7 C722.8,3026.8 730.7,3027.4 733.0,3032.7 C735.3,3037.9 733.3,3038.1 728.1,3045.0 C722.9,3052.0 717.1,3059.5 710.7,3062.4 C704.4,3065.3 706.0,3067.8 700.8,3057.4 C695.6,3047.0 692.5,3028.2 688.4,3017.8 C684.4,3007.4 682.9,3017.5 683.5,3012.8 C684.1,3008.2 689.8,3002.6 690.9,2998.0 C692.1,2993.3 694.8,2994.8 688.4,2993.0 C682.1,2991.3 670.6,2993.4 663.7,2990.5 C656.7,2987.7 661.6,2981.2 658.7,2980.6 C655.8,2980.1 653.0,2983.4 651.3,2988.1 C649.5,2992.7 653.6,2998.1 651.3,3000.4 C649.0,3002.8 646.0,3003.2 641.4,2998.0 C636.7,2992.8 636.7,2982.2 631.5,2978.2 C626.3,2974.1 619.1,2975.4 619.1,2980.6 C619.1,2985.8 629.7,2995.2 631.5,3000.4 C633.2,3005.7 631.1,3007.0 626.5,3002.9 C621.9,2998.9 618.0,2987.7 611.6,2983.1 C605.3,2978.5 606.2,2982.5 599.3,2983.1 C592.3,2983.7 587.7,2982.7 581.9,2985.6 C576.1,2988.5 581.1,2992.6 574.5,2995.5 C567.9,2998.4 558.9,3000.9 553.7,2998.0Z M594.3,2841.9 C596.0,2838.1 601.7,2833.5 609.2,2832.0 C616.7,2830.5 624.2,2832.0 626.5,2835.5 C628.8,2839.0 624.9,2843.9 619.1,2846.9 C613.3,2849.9 607.5,2849.5 601.7,2848.4 C596.0,2847.2 592.6,2845.7 594.3,2841.9Z M677.5,2866.7 C677.3,2862.1 678.6,2855.7 683.5,2849.4 C688.3,2843.0 694.3,2840.6 698.3,2839.4 C702.4,2838.3 703.1,2840.9 700.8,2844.4 C698.5,2847.9 692.2,2848.5 688.4,2854.3 C684.6,2860.1 687.0,2866.3 684.5,2869.2 C681.9,2872.1 677.8,2871.3 677.5,2866.7Z M527.4,2897.9 C531.6,2896.2 540.0,2894.5 544.8,2895.4 C549.5,2896.4 550.1,2899.4 547.7,2901.9 C545.4,2904.3 539.7,2905.6 534.9,2905.8 C530.0,2906.1 528.7,2904.7 526.9,2902.9 C525.2,2901.0 523.3,2899.6 527.4,2897.9Z M884.4,2900.6 C885.7,2900.6 888.1,2905.2 891.3,2911.6 C894.5,2918.1 895.3,2921.8 898.2,2928.2 C901.1,2934.7 903.4,2937.0 903.8,2939.3 C904.1,2941.6 902.2,2941.1 899.6,2937.9 C897.0,2934.7 895.9,2931.6 892.7,2925.5 C889.5,2919.3 887.7,2917.5 885.8,2911.6 C883.9,2905.8 883.1,2900.6 884.4,2900.6Z M901.0,2941.5 C902.9,2940.4 908.7,2941.5 910.7,2943.4 C912.6,2945.4 911.2,2948.7 909.3,2949.8 C907.4,2950.9 904.3,2950.1 902.4,2948.1 C900.4,2946.2 899.1,2942.6 901.0,2941.5Z M910.7,2955.9 C912.3,2957.2 913.7,2961.8 912.1,2966.9 C910.4,2972.1 907.6,2974.1 903.8,2978.0 C899.9,2981.9 898.7,2981.9 895.5,2983.5 C892.2,2985.1 890.6,2986.2 889.9,2984.9 C889.3,2983.6 890.1,2980.9 892.7,2978.0 C895.3,2975.1 898.1,2976.3 901.0,2972.5 C903.9,2968.6 902.9,2965.3 905.1,2961.4 C907.4,2957.5 909.1,2954.6 910.7,2955.9Z M889.4,2986.3 C890.4,2985.3 893.2,2985.4 894.1,2986.8 C895.0,2988.3 894.2,2991.3 893.3,2992.4 C892.3,2993.4 890.8,2992.7 889.9,2991.3 C889.0,2989.9 888.4,2987.3 889.4,2986.3Z M847.9,3031.1 C849.0,3030.3 851.6,3030.5 852.3,3031.6 C853.1,3032.8 852.3,3035.3 851.2,3036.1 C850.2,3036.8 848.7,3036.1 847.9,3035.0 C847.1,3033.8 846.9,3031.9 847.9,3031.1Z M872.0,2996.8 C872.8,2995.2 874.4,2996.8 874.7,3000.1 C875.1,3003.5 874.2,3009.6 873.4,3011.2 C872.5,3012.8 871.5,3010.4 871.1,3007.0 C870.8,3003.7 871.1,2998.4 872.0,2996.8Z M877.5,3034.7 C878.5,3032.1 882.1,3035.3 883.0,3038.8 C884.0,3042.4 879.4,3046.0 881.6,3049.9 C883.9,3053.8 889.2,3050.9 892.7,3055.4 C896.3,3059.9 897.5,3064.7 896.9,3069.2 C896.2,3073.8 892.8,3076.1 889.9,3074.8 C887.0,3073.5 887.0,3069.5 884.4,3063.7 C881.8,3057.9 880.5,3056.7 878.9,3049.9 C877.3,3043.1 876.5,3037.3 877.5,3034.7Z M856.8,3088.6 C860.3,3082.1 865.4,3073.3 870.6,3072.0 C875.7,3070.7 877.6,3077.9 878.9,3083.1 C880.2,3088.2 879.3,3089.6 876.1,3094.1 C872.9,3098.6 869.9,3101.1 865.1,3102.4 C860.2,3103.7 857.3,3102.9 855.4,3099.6 C853.4,3096.4 853.2,3095.0 856.8,3088.6Z M816.7,3076.1 C818.3,3075.8 823.0,3083.9 829.1,3091.4 C835.2,3098.8 841.0,3104.1 842.9,3107.9 C844.9,3111.8 842.3,3111.5 837.4,3107.9 C832.6,3104.4 827.0,3100.2 822.2,3092.7 C817.4,3085.3 815.1,3076.5 816.7,3076.1Z M781.6,3066.5 C782.2,3065.2 784.1,3065.9 784.9,3067.9 C785.7,3069.8 785.5,3073.5 784.9,3074.8 C784.2,3076.1 782.9,3075.3 782.1,3073.4 C781.3,3071.4 780.9,3067.8 781.6,3066.5Z M820.8,2802.4 C822.1,2799.9 826.7,2798.6 831.9,2798.3 C837.0,2798.0 841.7,2798.8 842.9,2801.1 C844.2,2803.3 841.3,2806.0 837.4,2808.0 C833.5,2809.9 830.2,2810.6 826.4,2809.4 C822.5,2808.1 819.5,2805.0 820.8,2802.4Z M891.6,3087.1 C894.0,3083.7 902.3,3080.0 904.0,3084.7 C905.8,3089.3 901.4,3103.5 899.1,3107.0 C896.8,3110.4 895.9,3104.2 894.1,3099.5 C892.4,3094.9 889.3,3090.6 891.6,3087.1Z M918.9,3099.5 C924.1,3097.8 930.9,3096.8 943.7,3102.0 C956.4,3107.2 968.8,3116.0 973.4,3121.8 C978.0,3127.6 972.7,3127.9 963.5,3126.8 C954.2,3125.6 943.6,3120.9 933.8,3116.9 C923.9,3112.8 924.8,3113.5 921.4,3109.4 C917.9,3105.4 913.7,3101.3 918.9,3099.5Z M849.5,3124.3 C857.6,3124.9 876.1,3128.8 884.2,3131.7 C892.3,3134.6 892.3,3137.3 884.2,3136.7 C876.1,3136.1 857.6,3132.1 849.5,3129.3 C841.4,3126.4 841.4,3123.7 849.5,3124.3Z M852.0,3171.4 C856.6,3164.4 860.7,3161.1 869.4,3156.5 C878.0,3151.9 881.1,3156.7 889.2,3151.5 C897.3,3146.3 897.1,3136.5 904.0,3134.2 C911.0,3131.9 913.7,3141.6 918.9,3141.6 C924.1,3141.6 922.3,3137.7 926.3,3134.2 C930.4,3130.7 932.8,3121.6 936.2,3126.8 C939.7,3132.0 936.0,3143.8 941.2,3156.5 C946.4,3169.2 952.7,3170.9 958.5,3181.3 C964.3,3191.7 966.0,3190.7 966.0,3201.1 C966.0,3211.5 963.7,3216.0 958.5,3225.9 C953.3,3235.7 951.8,3238.6 943.7,3243.2 C935.6,3247.8 930.8,3248.6 923.8,3245.7 C916.9,3242.8 919.7,3236.0 913.9,3230.8 C908.2,3225.6 907.2,3225.7 899.1,3223.4 C891.0,3221.1 888.5,3219.7 879.3,3220.9 C870.0,3222.1 866.4,3230.6 859.4,3228.3 C852.5,3226.0 851.9,3220.8 849.5,3211.0 C847.2,3201.2 849.0,3195.5 849.5,3186.2 C850.1,3177.0 847.4,3178.3 852.0,3171.4Z M933.8,3253.1 C934.9,3250.8 942.5,3250.8 943.7,3253.1 C944.8,3255.4 941.0,3263.0 938.7,3263.0 C936.4,3263.0 932.6,3255.4 933.8,3253.1Z M990.7,3220.9 C993.6,3221.5 998.2,3230.0 998.2,3235.8 C998.2,3241.5 993.6,3246.2 990.7,3245.7 C987.8,3245.1 985.8,3239.1 985.8,3233.3 C985.8,3227.5 987.8,3220.3 990.7,3220.9Z M983.3,3245.7 C981.0,3249.7 974.8,3257.8 968.4,3263.0 C962.1,3268.2 957.2,3269.1 956.0,3268.0 C954.9,3266.8 958.3,3263.3 963.5,3258.1 C968.7,3252.9 973.7,3248.6 978.3,3245.7 C983.0,3242.8 985.6,3241.6 983.3,3245.7Z" fill="#e4e4e6"/>
<path d="M643.8,2965.8 C644.7,2963.5 649.6,2961.2 653.8,2960.8 C657.9,2960.4 665.3,2961.6 668.6,2963.3 C671.9,2964.9 674.4,2968.7 673.6,2970.7 C672.7,2972.8 667.8,2975.1 663.7,2975.7 C659.5,2976.3 652.1,2975.8 648.8,2974.2 C645.5,2972.5 643.0,2968.0 643.8,2965.8Z M683.5,2960.8 C684.3,2958.3 688.8,2956.3 690.9,2958.3 C693.0,2960.4 695.5,2968.2 695.9,2973.2 C696.3,2978.2 694.8,2986.0 693.4,2988.1 C692.0,2990.1 688.7,2988.1 687.4,2985.6 C686.2,2983.1 686.6,2977.3 686.0,2973.2 C685.3,2969.1 682.7,2963.3 683.5,2960.8Z M400.6,2901.4 C403.9,2897.2 414.3,2895.2 418.0,2896.4 C421.7,2897.7 423.8,2903.4 422.9,2908.8 C422.1,2914.2 417.1,2926.6 413.0,2928.6 C408.9,2930.7 400.2,2925.7 398.2,2921.2 C396.1,2916.6 397.3,2905.5 400.6,2901.4Z" fill="#fff"/>
<line x1="292.8" y1="2780" x2="350" y2="2895" stroke="#f83b4d" stroke-width="0.9" stroke-dasharray="2.5,1.6"/>
<line x1="556.8" y1="2781.7" x2="580" y2="2905" stroke="#f83b4d" stroke-width="0.9" stroke-dasharray="2.5,1.6"/>
<line x1="739.6" y1="2761.8" x2="647" y2="2935" stroke="#5564ad" stroke-width="0.9" stroke-dasharray="2.5,1.6"/>
<line x1="964.5" y1="2737.5" x2="757" y2="2905" stroke="#5564ad" stroke-width="0.9" stroke-dasharray="2.5,1.6"/>
<line x1="1075" y1="2865" x2="847" y2="2981.5" stroke="#5564ad" stroke-width="0.9" stroke-dasharray="2.5,1.6"/>
<line x1="1056.7" y1="2976" x2="784" y2="3035" stroke="#5564ad" stroke-width="0.9" stroke-dasharray="2.5,1.6"/>
<line x1="1071.4" y1="3101.2" x2="853" y2="3057" stroke="#5564ad" stroke-width="0.9" stroke-dasharray="2.5,1.6"/>
<line x1="691" y1="3018" x2="865" y2="3282" stroke="#f83b4d" stroke-width="0.9" stroke-dasharray="2.5,1.6"/>
<line x1="645.5" y1="3083" x2="671" y2="3282" stroke="#5564ad" stroke-width="0.9" stroke-dasharray="2.5,1.6"/>
<line x1="607.5" y1="3019.3" x2="464.6" y2="3289" stroke="#5564ad" stroke-width="0.9" stroke-dasharray="2.5,1.6"/>
<line x1="189.5" y1="3099" x2="427" y2="3121" stroke="#5564ad" stroke-width="0.9" stroke-dasharray="2.5,1.6"/>
<circle cx="364" cy="2929.6" r="40.2" fill="#f83b4d"/>
<circle cx="590" cy="2946.2" r="41" fill="#f83b4d"/>
<circle cx="691" cy="3017.8" r="23.9" fill="#f83b4d"/>
<circle cx="647.3" cy="2934.8" r="12" fill="#5564ad"/>
<circle cx="757.3" cy="2904.8" r="8" fill="#5564ad"/>
<circle cx="847" cy="2981.3" r="6.6" fill="#5564ad"/>
<circle cx="784" cy="3035" r="7" fill="#5564ad"/>
<circle cx="852.5" cy="3057" r="14.8" fill="#5564ad"/>
<circle cx="645.4" cy="3083.2" r="13.9" fill="#5564ad"/>
<circle cx="607.5" cy="3019.3" r="2.6" fill="#5564ad"/>
<circle cx="426.8" cy="3120.8" r="8.5" fill="#5564ad"/>
<text x="182.8" y="2691.7" font-family="'Liberation Sans',sans-serif" font-size="23.91" font-weight="normal" fill="#1d1d1d" textLength="158.0" lengthAdjust="spacingAndGlyphs">NORTEAMÉRICA</text>
<text x="212.7" y="2753.8" font-family="'Liberation Sans',sans-serif" font-size="51.50" font-weight="normal" fill="#f83b4d" textLength="56.2" lengthAdjust="spacingAndGlyphs" stroke="#f83b4d" stroke-width="0.46799999999999997" stroke-linejoin="round">22,6</text>
<text x="277.7" y="2759.5" font-family="'Liberation Sans',sans-serif" font-size="62.97" font-weight="normal" fill="#f83b4d" textLength="29.4" lengthAdjust="spacingAndGlyphs" stroke="#f83b4d" stroke-width="0.46799999999999997" stroke-linejoin="round" font-style="italic">%</text>
<text x="417.3" y="2691.7" font-family="'Liberation Sans',sans-serif" font-size="23.91" font-weight="normal" fill="#1d1d1d" textLength="252.9" lengthAdjust="spacingAndGlyphs">EUROPA SEPTENTRIONAL</text>
<text x="417.3" y="2716.3" font-family="'Liberation Sans',sans-serif" font-size="23.91" font-weight="normal" fill="#1d1d1d" textLength="271.3" lengthAdjust="spacingAndGlyphs">MERIDIONAL Y OCCIDENTAL</text>
<text x="494.4" y="2778.3" font-family="'Liberation Sans',sans-serif" font-size="52.21" font-weight="normal" fill="#f83b4d" textLength="57.6" lengthAdjust="spacingAndGlyphs" stroke="#f83b4d" stroke-width="0.4745" stroke-linejoin="round">23,3</text>
<text x="561.0" y="2784.1" font-family="'Liberation Sans',sans-serif" font-size="63.85" font-weight="normal" fill="#f83b4d" textLength="30.1" lengthAdjust="spacingAndGlyphs" stroke="#f83b4d" stroke-width="0.4745" stroke-linejoin="round" font-style="italic">%</text>
<text x="688.4" y="2691.7" font-family="'Liberation Sans',sans-serif" font-size="23.91" font-weight="normal" fill="#1d1d1d" textLength="184.7" lengthAdjust="spacingAndGlyphs">EUROPA ORIENTAL</text>
<text x="728.4" y="2753.8" font-family="'Liberation Sans',sans-serif" font-size="52.93" font-weight="normal" fill="#5564ad" textLength="51.8" lengthAdjust="spacingAndGlyphs" stroke="#5564ad" stroke-width="0.481" stroke-linejoin="round">6,7</text>
<text x="787.5" y="2759.7" font-family="'Liberation Sans',sans-serif" font-size="64.72" font-weight="normal" fill="#5564ad" textLength="26.4" lengthAdjust="spacingAndGlyphs" stroke="#5564ad" stroke-width="0.481" stroke-linejoin="round" font-style="italic">%</text>
<text x="893.0" y="2691.7" font-family="'Liberation Sans',sans-serif" font-size="23.91" font-weight="normal" fill="#1d1d1d" textLength="289.8" lengthAdjust="spacingAndGlyphs">ASIA CENTRAL Y OCCIDENTAL</text>
<text x="975.1" y="2753.8" font-family="'Liberation Sans',sans-serif" font-size="52.93" font-weight="normal" fill="#5564ad" textLength="46.9" lengthAdjust="spacingAndGlyphs" stroke="#5564ad" stroke-width="0.481" stroke-linejoin="round">4,5</text>
<text x="1029.2" y="2759.7" font-family="'Liberation Sans',sans-serif" font-size="64.72" font-weight="normal" fill="#5564ad" textLength="24.6" lengthAdjust="spacingAndGlyphs" stroke="#5564ad" stroke-width="0.481" stroke-linejoin="round" font-style="italic">%</text>
<text x="1072.5" y="2863.2" font-family="'Liberation Sans',sans-serif" font-size="23.62" font-weight="normal" fill="#1d1d1d" textLength="146.9" lengthAdjust="spacingAndGlyphs">ASIA ORIENTAL</text>
<text x="1088.6" y="2920.8" font-family="'Liberation Sans',sans-serif" font-size="52.93" font-weight="normal" fill="#5564ad" textLength="51.2" lengthAdjust="spacingAndGlyphs" stroke="#5564ad" stroke-width="0.481" stroke-linejoin="round">3,7</text>
<text x="1147.1" y="2926.7" font-family="'Liberation Sans',sans-serif" font-size="64.72" font-weight="normal" fill="#5564ad" textLength="26.3" lengthAdjust="spacingAndGlyphs" stroke="#5564ad" stroke-width="0.481" stroke-linejoin="round" font-style="italic">%</text>
<text x="1072.5" y="2973.2" font-family="'Liberation Sans',sans-serif" font-size="23.62" font-weight="normal" fill="#1d1d1d" textLength="133.5" lengthAdjust="spacingAndGlyphs">ASIA DEL SUR</text>
<text x="1073.6" y="3031.3" font-family="'Liberation Sans',sans-serif" font-size="53.64" font-weight="normal" fill="#5564ad" textLength="48.0" lengthAdjust="spacingAndGlyphs" stroke="#5564ad" stroke-width="0.4875" stroke-linejoin="round">4,2</text>
<text x="1128.5" y="3037.3" font-family="'Liberation Sans',sans-serif" font-size="65.60" font-weight="normal" fill="#5564ad" textLength="25.0" lengthAdjust="spacingAndGlyphs" stroke="#5564ad" stroke-width="0.4875" stroke-linejoin="round" font-style="italic">%</text>
<text x="1072.5" y="3109.4" font-family="'Liberation Sans',sans-serif" font-size="23.62" font-weight="normal" fill="#1d1d1d" textLength="146.9" lengthAdjust="spacingAndGlyphs">ASIA ORIENTAL</text>
<text x="1072.1" y="3134.2" font-family="'Liberation Sans',sans-serif" font-size="23.62" font-weight="normal" fill="#1d1d1d" textLength="135.8" lengthAdjust="spacingAndGlyphs">Y EL PACÍFICO</text>
<text x="1070.3" y="3195.8" font-family="'Liberation Sans',sans-serif" font-size="52.93" font-weight="normal" fill="#5564ad" textLength="49.0" lengthAdjust="spacingAndGlyphs" stroke="#5564ad" stroke-width="0.481" stroke-linejoin="round">8,3</text>
<text x="1126.4" y="3201.7" font-family="'Liberation Sans',sans-serif" font-size="64.72" font-weight="normal" fill="#5564ad" textLength="25.2" lengthAdjust="spacingAndGlyphs" stroke="#5564ad" stroke-width="0.481" stroke-linejoin="round" font-style="italic">%</text>
<text x="55.2" y="3081.0" font-family="'Liberation Sans',sans-serif" font-size="23.91" font-weight="normal" fill="#1d1d1d" textLength="162.5" lengthAdjust="spacingAndGlyphs">LATINOAMÉRICA</text>
<text x="71.9" y="3106.4" font-family="'Liberation Sans',sans-serif" font-size="23.91" font-weight="normal" fill="#1d1d1d" textLength="116.7" lengthAdjust="spacingAndGlyphs">Y EL CARIBE</text>
<text x="86.5" y="3170.8" font-family="'Liberation Sans',sans-serif" font-size="54.36" font-weight="normal" fill="#5564ad" textLength="50.4" lengthAdjust="spacingAndGlyphs" stroke="#5564ad" stroke-width="0.494" stroke-linejoin="round">4,7</text>
<text x="144.2" y="3176.8" font-family="'Liberation Sans',sans-serif" font-size="66.47" font-weight="normal" fill="#5564ad" textLength="26.3" lengthAdjust="spacingAndGlyphs" stroke="#5564ad" stroke-width="0.494" stroke-linejoin="round" font-style="italic">%</text>
<text x="241.9" y="3309.5" font-family="'Liberation Sans',sans-serif" font-size="23.19" font-weight="normal" fill="#1d1d1d" textLength="240.4" lengthAdjust="spacingAndGlyphs">ÁFRICA SEPTENTRIONAL</text>
<text x="278.7" y="3371.8" font-family="'Liberation Sans',sans-serif" font-size="54.36" font-weight="normal" fill="#5564ad" textLength="52.6" lengthAdjust="spacingAndGlyphs" stroke="#5564ad" stroke-width="0.494" stroke-linejoin="round">0,7</text>
<text x="338.9" y="3377.8" font-family="'Liberation Sans',sans-serif" font-size="66.47" font-weight="normal" fill="#5564ad" textLength="27.1" lengthAdjust="spacingAndGlyphs" stroke="#5564ad" stroke-width="0.494" stroke-linejoin="round" font-style="italic">%</text>
<text x="590.0" y="3309.5" font-family="'Liberation Sans',sans-serif" font-size="23.19" font-weight="normal" fill="#1d1d1d" textLength="234.5" lengthAdjust="spacingAndGlyphs">ÁFRICA SUBSAHARIANA</text>
<text x="606.8" y="3371.8" font-family="'Liberation Sans',sans-serif" font-size="54.36" font-weight="normal" fill="#5564ad" textLength="51.9" lengthAdjust="spacingAndGlyphs" stroke="#5564ad" stroke-width="0.494" stroke-linejoin="round">7,8</text>
<text x="666.1" y="3377.8" font-family="'Liberation Sans',sans-serif" font-size="66.47" font-weight="normal" fill="#5564ad" textLength="26.5" lengthAdjust="spacingAndGlyphs" stroke="#5564ad" stroke-width="0.494" stroke-linejoin="round" font-style="italic">%</text>
<text x="852.3" y="3309.5" font-family="'Liberation Sans',sans-serif" font-size="23.19" font-weight="normal" fill="#1d1d1d" textLength="177.2" lengthAdjust="spacingAndGlyphs">ESTADOS ÁRABES</text>
<text x="875.4" y="3371.8" font-family="'Liberation Sans',sans-serif" font-size="54.36" font-weight="normal" fill="#f83b4d" textLength="56.8" lengthAdjust="spacingAndGlyphs" stroke="#f83b4d" stroke-width="0.494" stroke-linejoin="round">13,5</text>
<text x="941.3" y="3377.8" font-family="'Liberation Sans',sans-serif" font-size="66.47" font-weight="normal" fill="#f83b4d" textLength="29.4" lengthAdjust="spacingAndGlyphs" stroke="#f83b4d" stroke-width="0.494" stroke-linejoin="round" font-style="italic">%</text>
<path d="M-20.0,3592.0 C-16.7,3591.8 -10.0,3589.3 0.0,3590.6 C10.0,3591.9 25.0,3604.1 40.0,3600.0 C55.0,3595.9 70.2,3578.4 90.0,3566.0 C109.8,3553.6 140.3,3530.0 158.6,3525.7 C176.9,3521.4 184.8,3531.3 200.0,3540.0 C215.2,3548.7 234.2,3568.3 250.0,3578.0 C265.8,3587.7 280.0,3597.3 295.0,3598.0 C310.0,3598.7 321.6,3589.4 340.0,3582.0 C358.4,3574.6 388.9,3557.4 405.6,3553.7 C422.3,3550.0 428.9,3556.9 440.0,3560.0 C451.1,3563.1 462.0,3571.2 472.0,3572.0 C482.0,3572.8 490.2,3568.0 500.0,3565.0 C509.8,3562.0 518.5,3556.3 531.0,3554.0 C543.5,3551.7 561.3,3550.7 575.0,3551.0 C588.7,3551.3 598.8,3551.5 613.0,3556.0 C627.2,3560.5 648.8,3573.0 660.0,3578.0 C671.2,3583.0 670.2,3583.9 680.0,3586.0 C689.8,3588.1 709.0,3587.7 718.7,3590.6 C728.4,3593.5 730.0,3597.9 738.0,3603.7 C746.0,3609.5 754.9,3621.4 767.0,3625.5 C779.1,3629.6 797.7,3628.0 810.6,3628.0 C823.5,3628.0 833.3,3627.5 844.5,3625.5 C855.7,3623.5 861.9,3622.2 878.0,3615.8 C894.1,3609.4 919.2,3596.1 941.0,3586.8 C962.8,3577.5 989.7,3565.3 1009.0,3560.0 C1028.3,3554.7 1041.1,3556.2 1057.0,3555.0 C1072.9,3553.8 1091.6,3551.8 1104.6,3553.0 C1117.6,3554.2 1122.4,3557.2 1135.0,3562.0 C1147.6,3566.8 1164.2,3575.5 1180.0,3582.0 C1195.8,3588.5 1210.0,3593.3 1230.0,3601.0 C1250.0,3608.7 1288.3,3623.5 1300.0,3628.0 L1300,3720 L-20,3720Z" fill="#fa7770"/>
<path d="M-20.0,3656.0 C-16.7,3656.3 -10.7,3656.0 0.0,3658.0 C10.7,3660.0 28.0,3662.5 44.0,3668.0 C60.0,3673.5 70.2,3687.0 96.0,3691.0 C121.8,3695.0 174.5,3693.5 199.0,3692.0 C223.5,3690.5 227.0,3685.2 243.0,3682.0 C259.0,3678.8 274.1,3674.7 295.0,3673.0 C315.9,3671.3 349.0,3670.2 368.7,3672.0 C388.4,3673.8 388.4,3682.0 413.0,3684.0 C437.6,3686.0 491.4,3685.2 516.0,3684.0 C540.6,3682.8 539.8,3678.3 560.5,3677.0 C581.2,3675.7 620.1,3678.2 640.0,3676.0 C659.9,3673.8 665.3,3667.2 680.0,3664.0 C694.7,3660.8 715.9,3657.4 728.0,3657.0 C740.1,3656.6 738.8,3659.0 752.6,3661.8 C766.4,3664.6 795.3,3671.5 810.6,3673.9 C825.9,3676.3 830.0,3676.2 844.5,3676.0 C859.0,3675.8 883.2,3674.2 897.7,3673.0 C912.2,3671.8 919.6,3667.7 931.6,3669.0 C943.6,3670.3 955.5,3679.4 970.0,3681.0 C984.5,3682.6 1003.4,3679.9 1018.7,3678.7 C1034.0,3677.5 1048.5,3675.2 1062.0,3674.0 C1075.5,3672.8 1084.3,3672.0 1100.0,3671.5 C1115.7,3671.0 1136.0,3669.6 1156.0,3671.0 C1176.0,3672.4 1196.0,3676.3 1220.0,3680.0 C1244.0,3683.7 1286.7,3690.8 1300.0,3693.0 L1300,3800 L-20,3800Z" fill="#3a2945"/>
<path d="M252.2,3387.9 C261.0,3384.5 263.9,3385.8 272.4,3389.8 C281.0,3393.7 282.3,3394.8 284.2,3402.7 C286.2,3410.5 280.7,3412.4 279.8,3419.3 C278.9,3426.1 282.4,3423.6 280.9,3428.5 C279.4,3433.4 277.0,3433.3 274.3,3437.7 C271.5,3442.1 272.6,3442.6 270.6,3445.1 C268.6,3447.5 264.9,3441.5 266.9,3446.9 C268.9,3452.3 273.1,3452.6 278.0,3465.3 C282.9,3478.1 283.4,3479.1 285.3,3494.8 C287.3,3510.6 286.8,3508.6 285.3,3524.3 C283.9,3540.1 282.8,3540.1 279.8,3553.8 C276.9,3567.6 276.3,3560.2 274.3,3575.9 C272.3,3591.7 274.9,3602.5 272.4,3612.8 C270.0,3623.1 268.5,3610.7 265.1,3614.7 C261.6,3618.6 261.5,3616.3 259.5,3627.6 C257.6,3638.9 258.7,3643.3 257.7,3657.1 C256.7,3670.8 255.4,3669.3 255.9,3679.2 C256.3,3689.0 271.3,3690.0 259.5,3693.9 C247.7,3697.8 227.8,3699.8 211.6,3693.9 C195.4,3688.0 205.1,3682.1 198.7,3671.8 C192.3,3661.5 187.2,3662.1 187.6,3655.2 C188.1,3648.3 193.2,3653.4 200.6,3646.0 C207.9,3638.6 207.9,3638.4 215.3,3627.6 C222.7,3616.7 226.2,3619.2 228.2,3605.4 C230.2,3591.7 226.1,3585.3 222.7,3575.9 C219.2,3566.6 220.2,3571.9 215.3,3570.4 C210.4,3568.9 207.2,3580.7 204.2,3570.4 C201.3,3560.1 209.6,3544.0 204.2,3531.7 C198.8,3519.4 190.8,3534.2 184.0,3524.3 C177.1,3514.5 177.9,3509.6 178.4,3494.8 C178.9,3480.1 178.9,3481.8 185.8,3469.0 C192.7,3456.3 192.9,3457.2 204.2,3446.9 C215.5,3436.6 220.3,3438.7 228.2,3430.3 C236.1,3422.0 230.8,3422.9 233.7,3415.6 C236.7,3408.2 234.3,3410.0 239.3,3402.7 C244.2,3395.3 243.3,3391.4 252.2,3387.9Z" fill="#3a2945"/>
<path d="M380.6,3336.6 C387.4,3329.7 386.9,3336.2 402.7,3334.7 C418.4,3333.3 422.8,3329.6 439.5,3331.1 C456.3,3332.5 452.6,3333.4 465.3,3340.3 C478.1,3347.2 479.1,3349.5 487.5,3356.9 C495.8,3364.2 494.7,3359.1 496.7,3367.9 C498.6,3376.8 497.3,3380.2 494.8,3390.0 C492.4,3399.9 490.9,3396.9 487.5,3404.8 C484.0,3412.7 482.9,3409.7 481.9,3419.5 C481.0,3429.4 483.8,3429.9 483.8,3441.7 C483.8,3453.5 485.9,3455.9 481.9,3463.8 C478.0,3471.6 472.5,3458.4 469.0,3471.2 C465.6,3483.9 467.1,3493.0 469.0,3511.7 C471.0,3530.4 474.9,3530.4 476.4,3541.2 C477.9,3552.0 478.0,3548.3 474.6,3552.3 C471.1,3556.2 466.9,3547.1 463.5,3555.9 C460.1,3564.8 462.6,3567.7 461.7,3585.4 C460.7,3603.1 459.8,3602.6 459.8,3622.3 C459.8,3642.0 462.0,3641.5 461.7,3659.2 C461.4,3676.9 466.4,3680.8 458.7,3688.7 C451.0,3696.5 440.0,3701.4 432.9,3688.7 C425.8,3675.9 432.9,3656.0 432.2,3640.7 C431.5,3625.5 434.3,3628.6 430.3,3631.5 C426.4,3634.5 423.8,3636.6 417.4,3651.8 C411.0,3667.0 414.7,3678.8 406.4,3688.7 C398.0,3698.5 392.2,3692.6 386.1,3688.7 C380.0,3684.7 385.2,3681.8 383.5,3673.9 C381.8,3666.1 374.7,3669.0 379.8,3659.2 C384.9,3649.3 393.6,3650.8 402.7,3637.1 C411.7,3623.3 409.8,3621.3 413.7,3607.6 C417.7,3593.8 420.4,3599.7 417.4,3585.4 C414.5,3571.2 411.5,3564.9 402.7,3554.1 C393.8,3543.3 387.7,3558.2 384.2,3544.9 C380.8,3531.6 388.3,3525.0 389.8,3504.3 C391.2,3483.7 386.8,3483.7 389.8,3467.5 C392.7,3451.2 393.0,3453.3 400.8,3443.5 C408.7,3433.7 415.3,3438.5 419.3,3430.6 C423.2,3422.7 422.0,3418.9 415.6,3414.0 C409.2,3409.1 407.6,3419.0 395.3,3412.2 C383.0,3405.3 374.4,3402.0 369.5,3388.2 C364.6,3374.4 373.9,3374.3 376.9,3360.6 C379.8,3346.8 373.7,3343.5 380.6,3336.6Z" fill="#3a2945"/>
<path d="M572.3,3364.2 C578.2,3363.7 577.4,3363.0 583.3,3367.9 C589.2,3372.8 590.6,3374.8 594.4,3382.7 C598.1,3390.5 597.3,3391.0 597.3,3397.4 C597.3,3403.8 595.2,3401.7 594.4,3406.6 C593.6,3411.6 597.3,3412.4 594.4,3415.9 C591.4,3419.3 585.8,3413.6 583.3,3419.5 C580.9,3425.4 583.7,3425.2 585.2,3438.0 C586.6,3450.8 587.4,3449.8 588.8,3467.5 C590.3,3485.2 586.3,3492.5 590.7,3504.3 C595.1,3516.1 597.6,3506.3 605.4,3511.7 C613.3,3517.1 613.8,3517.7 620.2,3524.6 C626.6,3531.5 626.5,3529.2 629.4,3537.5 C632.4,3545.9 627.8,3545.1 631.2,3555.9 C634.7,3566.8 638.9,3565.3 642.3,3578.1 C645.7,3590.8 647.1,3591.1 644.1,3603.9 C641.2,3616.7 638.6,3618.6 631.2,3626.0 C623.9,3633.4 620.9,3614.8 616.5,3631.5 C612.1,3648.2 619.6,3673.4 614.7,3688.7 C609.7,3703.9 603.5,3708.3 598.1,3688.7 C592.7,3669.0 599.3,3642.5 594.4,3614.9 C589.5,3587.4 586.0,3595.3 579.6,3585.4 C573.2,3575.6 575.3,3572.2 570.4,3578.1 C565.5,3584.0 567.6,3591.8 561.2,3607.6 C554.8,3623.3 551.9,3624.3 546.5,3637.1 C541.0,3649.8 543.4,3641.7 540.9,3655.5 C538.5,3669.2 544.6,3679.8 537.2,3688.7 C529.9,3697.5 518.7,3695.5 513.3,3688.7 C507.9,3681.8 513.0,3679.6 517.0,3662.9 C520.9,3646.1 522.6,3648.6 528.0,3626.0 C533.4,3603.4 534.8,3604.6 537.2,3578.1 C539.7,3551.5 541.7,3544.1 537.2,3526.5 C532.8,3508.8 528.5,3518.6 520.6,3511.7 C512.8,3504.8 512.2,3507.0 507.7,3500.6 C503.3,3494.3 502.6,3495.6 504.1,3487.7 C505.5,3479.9 506.9,3479.5 513.3,3471.2 C519.7,3462.8 523.6,3466.2 528.0,3456.4 C532.4,3446.6 526.4,3442.6 529.9,3434.3 C533.3,3425.9 533.5,3430.5 540.9,3425.1 C548.3,3419.7 553.1,3421.4 557.5,3414.0 C561.9,3406.6 558.7,3406.8 557.5,3397.4 C556.3,3388.1 552.1,3386.4 553.1,3379.0 C554.1,3371.6 556.1,3373.7 561.2,3369.8 C566.3,3365.8 566.4,3364.7 572.3,3364.2Z" fill="#3a2945"/>
<path d="M793.7,3368.1 C802.7,3367.4 805.7,3368.5 813.1,3373.9 C820.4,3379.3 819.4,3380.0 821.3,3388.4 C823.2,3396.8 821.9,3397.6 820.3,3405.3 C818.8,3413.1 820.0,3412.9 815.5,3417.4 C811.0,3421.9 807.3,3419.7 803.4,3422.3 C799.5,3424.8 799.7,3420.6 801.0,3427.1 C802.3,3433.5 805.0,3432.3 808.2,3446.4 C811.4,3460.6 812.4,3459.7 813.1,3480.3 C813.7,3501.0 810.6,3507.1 810.6,3523.9 C810.6,3540.6 809.2,3530.3 813.1,3543.2 C816.9,3556.1 818.7,3554.2 825.2,3572.3 C831.6,3590.3 832.7,3590.3 837.3,3611.0 C841.8,3631.6 840.8,3629.0 842.1,3649.7 C843.4,3670.3 849.2,3678.1 842.1,3688.4 C835.0,3698.7 823.2,3701.3 815.5,3688.4 C807.7,3675.5 815.0,3660.6 813.1,3640.0 C811.1,3619.4 814.7,3625.2 808.2,3611.0 C801.8,3596.8 797.3,3585.5 788.9,3586.8 C780.5,3588.1 783.9,3602.9 776.8,3615.8 C769.7,3628.7 773.9,3626.1 762.3,3635.2 C750.6,3644.2 742.3,3639.4 733.2,3649.7 C724.2,3660.0 740.0,3667.4 728.4,3673.9 C716.8,3680.3 698.7,3676.4 689.7,3673.9 C680.6,3671.3 688.1,3671.9 694.5,3664.2 C701.0,3656.4 703.5,3655.2 713.9,3644.8 C724.2,3634.5 724.2,3639.7 733.2,3625.5 C742.3,3611.3 742.6,3604.5 747.7,3591.6 C752.9,3578.7 752.6,3583.5 752.6,3577.1 C752.6,3570.6 748.4,3579.0 747.7,3567.4 C747.1,3555.8 756.0,3543.2 750.2,3533.5 C744.4,3523.9 733.7,3537.6 726.0,3531.1 C718.2,3524.7 725.6,3519.0 721.1,3509.4 C716.6,3499.7 712.3,3503.9 709.0,3494.8 C705.8,3485.8 704.5,3484.5 709.0,3475.5 C713.5,3466.4 715.0,3468.1 726.0,3461.0 C736.9,3453.9 743.1,3456.6 750.2,3448.9 C757.3,3441.1 745.5,3439.0 752.6,3431.9 C759.7,3424.8 769.7,3427.4 776.8,3422.3 C783.9,3417.1 779.8,3420.3 779.2,3412.6 C778.5,3404.8 774.4,3402.9 774.4,3393.2 C774.4,3383.5 774.0,3383.0 779.2,3376.3 C784.4,3369.6 784.7,3368.7 793.7,3368.1Z" fill="#3a2945"/>
<path d="M989.7,3360.3 C1000.0,3359.0 1002.3,3359.8 1009.0,3366.6 C1015.7,3373.5 1014.2,3375.6 1014.8,3386.0 C1015.5,3396.3 1014.9,3398.9 1011.4,3405.3 C1008.0,3411.8 1005.0,3405.6 1001.8,3410.2 C998.5,3414.7 999.3,3415.2 999.3,3422.3 C999.3,3429.4 997.9,3422.6 1001.8,3436.8 C1005.6,3451.0 1004.2,3458.7 1013.9,3475.5 C1023.5,3492.3 1027.1,3491.3 1038.1,3499.7 C1049.0,3508.1 1048.5,3503.1 1055.0,3506.9 C1061.4,3510.8 1062.3,3510.3 1062.3,3514.2 C1062.3,3518.1 1060.8,3522.7 1055.0,3521.4 C1049.2,3520.2 1050.2,3516.4 1040.5,3509.4 C1030.8,3502.3 1029.0,3501.3 1018.7,3494.8 C1008.4,3488.4 1006.9,3481.9 1001.8,3485.2 C996.6,3488.4 999.3,3494.0 999.3,3506.9 C999.3,3519.8 997.9,3516.1 1001.8,3533.5 C1005.6,3551.0 1006.8,3549.0 1013.9,3572.3 C1021.0,3595.5 1021.3,3596.1 1028.4,3620.6 C1035.5,3645.2 1032.7,3653.2 1040.5,3664.2 C1048.2,3675.2 1050.7,3663.1 1057.4,3661.8 C1064.1,3660.5 1064.3,3656.1 1065.6,3659.3 C1066.9,3662.6 1064.4,3666.1 1062.3,3673.9 C1060.1,3681.6 1069.0,3684.5 1057.4,3688.4 C1045.8,3692.3 1031.6,3696.1 1018.7,3688.4 C1005.8,3680.6 1016.8,3680.0 1009.0,3659.3 C1001.3,3638.7 998.1,3630.3 989.7,3611.0 C981.3,3591.6 984.0,3584.2 977.6,3586.8 C971.1,3589.4 974.5,3601.3 965.5,3620.6 C956.4,3640.0 952.7,3641.3 943.7,3659.3 C934.7,3677.4 943.2,3680.6 931.6,3688.4 C920.0,3696.1 907.9,3695.5 900.2,3688.4 C892.4,3681.3 898.1,3670.2 902.6,3661.8 C907.1,3653.4 908.1,3670.5 917.1,3656.9 C926.1,3643.4 928.7,3634.8 936.4,3611.0 C944.2,3587.1 944.2,3588.1 946.1,3567.4 C948.1,3546.8 947.6,3546.4 943.7,3533.5 C939.8,3520.6 938.1,3516.4 931.6,3519.0 C925.2,3521.6 923.4,3532.3 919.5,3543.2 C915.6,3554.2 914.5,3547.3 917.1,3560.2 C919.7,3573.1 925.3,3576.1 929.2,3591.6 C933.1,3607.1 933.5,3609.2 931.6,3618.2 C929.7,3627.3 933.5,3624.2 921.9,3625.5 C910.3,3626.8 899.7,3626.3 888.1,3623.1 C876.4,3619.8 878.4,3621.8 878.4,3613.4 C878.4,3605.0 880.3,3604.5 888.1,3591.6 C895.8,3578.7 903.3,3575.3 907.4,3565.0 C911.5,3554.7 903.5,3560.0 903.5,3552.9 C903.5,3545.8 903.8,3550.0 907.4,3538.4 C911.0,3526.8 915.8,3522.3 917.1,3509.4 C918.4,3496.4 912.3,3500.3 912.3,3490.0 C912.3,3479.7 913.2,3479.7 917.1,3470.6 C921.0,3461.6 923.5,3465.2 926.8,3456.1 C930.0,3447.1 925.3,3445.8 929.2,3436.8 C933.1,3427.7 931.0,3428.7 941.3,3422.3 C951.6,3415.8 961.4,3420.3 967.9,3412.6 C974.4,3404.8 964.8,3404.2 965.5,3393.2 C966.1,3382.3 963.9,3380.2 970.3,3371.5 C976.8,3362.7 979.4,3361.6 989.7,3360.3Z" fill="#3a2945"/>
<g transform="translate(38.5,3740.6) scale(1.060)"><clipPath id="gc38_3740"><circle r="19"/></clipPath><circle r="19" fill="#3a2945" stroke="#fff" stroke-width="2.4"/><g clip-path="url(#gc38_3740)"><path d="M-17.4,30 L22.6,-10 M-15.3,30 L24.7,-10 M-13.2,30 L26.8,-10 M-11.1,30 L28.9,-10 M-9.0,30 L31.0,-10 M-6.9,30 L33.1,-10 M-4.8,30 L35.2,-10 M-2.7,30 L37.3,-10 M-0.6,30 L39.4,-10 M1.5,30 L41.5,-10 M3.6,30 L43.6,-10 M5.7,30 L45.7,-10 M7.8,30 L47.8,-10 M9.9,30 L49.9,-10 M12.0,30 L52.0,-10 M14.1,30 L54.1,-10 M16.2,30 L56.2,-10 M18.3,30 L58.3,-10 M20.4,30 L60.4,-10 M22.5,30 L62.5,-10 " fill="none" stroke="#fff" stroke-width="1.25"/><path d="M-38.4,30 L1.6,-10 M-34.2,30 L5.8,-10 M-30.0,30 L10.0,-10 M-25.8,30 L14.2,-10 M-21.6,30 L18.4,-10 " fill="none" stroke="#fff" stroke-width="0.7"/><path d="M-15,-8 Q-12,-15 -4,-16 Q4,-17 9,-11 Q10,-6 6,-4 Q3,-3 3,1 Q2,4 -1,5 Q-3,4 -4,1 Q-6,-3 -10,-4 Q-14,-4 -15,-8Z M-1,5.5 Q4,5 8,9 Q9,12 6,15 Q3,17 2,18.5 Q0,14 -1,10 Q-3,7 -1,5.5Z" fill="#3a2945" stroke="#fff" stroke-width="1"/><path d="M-8,-12 q3,3 1,6 q4,1 5,-3 M-6,-7 q2,3 6,2" fill="none" stroke="#fff" stroke-width="0.8"/></g><circle cx="-1.5" cy="4.2" r="2.3" fill="#e8862a"/></g>
<text x="65.6" y="3760.8" font-family="'Liberation Serif',serif" font-size="79.3" fill="#fff" stroke="#fff" stroke-width="1.5" textLength="106.4" lengthAdjust="spacingAndGlyphs">ens</text>
<text x="19.5" y="3785" font-family="'Liberation Serif',serif" font-size="20.7" fill="#fff" stroke="#fff" stroke-width="0.35" textLength="148.0" lengthAdjust="spacingAndGlyphs">ensegundos.com.pa</text>
<g fill="none" stroke="#e8862a" stroke-width="1.3"><circle cx="172.1" cy="3779.0" r="2.1"/><path d="M169.3,3787.5 q0,-5 2.8,-5 q2.8,0 2.8,5 M172.1,3782.5 v6"/></g>
<text x="734.9" y="3770.4" font-family="'Liberation Sans',sans-serif" font-size="15.94" font-weight="normal" fill="#fff" textLength="142.2" lengthAdjust="spacingAndGlyphs">M: MILLONES | FUENTE:</text>
<text x="880.3" y="3770.2" font-family="'Liberation Sans',sans-serif" font-size="15.22" font-weight="bold" fill="#fff" textLength="390.6" lengthAdjust="spacingAndGlyphs" stroke="#fff" stroke-width="0.5" stroke-linejoin="round">EFE,  ORGANIZACIÓN INTERNACIONAL DEL TRABAJO (OIT)</text>
<text x="1009.1" y="3787.4" font-family="'Liberation Sans',sans-serif" font-size="15.94" font-weight="normal" fill="#fff" textLength="79.6" lengthAdjust="spacingAndGlyphs">INFOGRAFÍA:</text>
<text x="1090.3" y="3787.2" font-family="'Liberation Sans',sans-serif" font-size="15.22" font-weight="bold" fill="#fff" textLength="180.2" lengthAdjust="spacingAndGlyphs" stroke="#fff" stroke-width="0.5" stroke-linejoin="round">N.F. ENSEGUNDOS.COM.PA</text>
</svg></body></html>
